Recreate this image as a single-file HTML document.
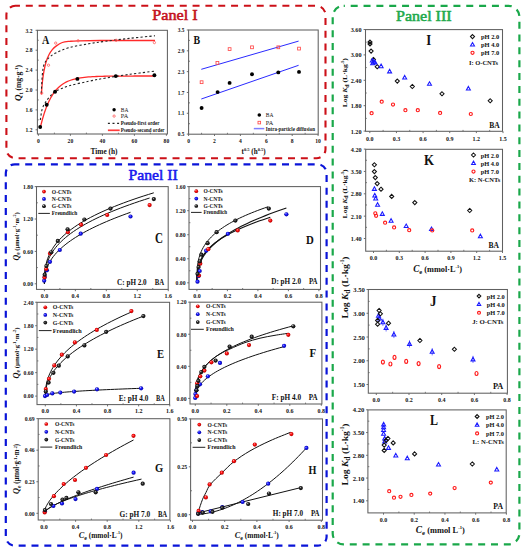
<!DOCTYPE html><html><head><meta charset="utf-8"><style>html,body{margin:0;padding:0;background:#fff;}svg{display:block;font-family:"Liberation Serif", serif;}</style></head><body>
<svg width="532" height="550" viewBox="0 0 532 550">
<defs><radialGradient id="gr" cx="0.5" cy="0.5" r="0.5" fx="0.35" fy="0.3"><stop offset="0" stop-color="#ffb0b0"/><stop offset="0.45" stop-color="#ff1010"/><stop offset="1" stop-color="#b00000"/></radialGradient><radialGradient id="gb" cx="0.5" cy="0.5" r="0.5" fx="0.35" fy="0.3"><stop offset="0" stop-color="#b0b0ff"/><stop offset="0.45" stop-color="#1a1aff"/><stop offset="1" stop-color="#0000a0"/></radialGradient><radialGradient id="gk" cx="0.5" cy="0.5" r="0.5" fx="0.35" fy="0.3"><stop offset="0" stop-color="#d0d0d0"/><stop offset="0.4" stop-color="#303030"/><stop offset="1" stop-color="#000"/></radialGradient></defs>
<rect width="532" height="550" fill="#fff"/>
<rect x="6.4" y="5.8" width="319.1" height="152.4" rx="9" ry="9" fill="none" stroke="#cc1018" stroke-width="2.1" stroke-dasharray="7 5.83" stroke-dashoffset="2.45"/>
<rect x="5.8" y="164.3" width="320.8" height="381.4" rx="9" ry="9" fill="none" stroke="#0a14d8" stroke-width="2.2" stroke-dasharray="7 5.84" stroke-dashoffset="2.44"/>
<rect x="332.7" y="5.8" width="186.7" height="538.6" rx="11" ry="11" fill="none" stroke="#1aa84a" stroke-width="2.2" stroke-dasharray="7 5.84" stroke-dashoffset="5.84"/>
<text x="175" y="19.7" font-size="15.2" fill="#c4101c" text-anchor="middle" textLength="45.4" lengthAdjust="spacingAndGlyphs" stroke="#c4101c" stroke-width="0.55">Panel I</text>
<text x="153.1" y="180" font-size="15.2" fill="#1818ee" text-anchor="middle" textLength="49.4" lengthAdjust="spacingAndGlyphs" stroke="#1818ee" stroke-width="0.55">Panel II</text>
<text x="423.8" y="21.4" font-size="15.2" fill="#1eaa4c" text-anchor="middle" textLength="55.6" lengthAdjust="spacingAndGlyphs" stroke="#1eaa4c" stroke-width="0.55">Panel III</text>
<rect x="37.4" y="30.3" width="130" height="103.7" fill="none" stroke="#606060" stroke-width="1.05"/>
<line x1="35.6" y1="129.8" x2="37.4" y2="129.8" stroke="#606060" stroke-width="0.9"/>
<text x="32.4" y="132" font-size="5.5" fill="#111" text-anchor="end" font-weight="bold">1.2</text>
<line x1="35.6" y1="109.9" x2="37.4" y2="109.9" stroke="#606060" stroke-width="0.9"/>
<text x="32.4" y="112.1" font-size="5.5" fill="#111" text-anchor="end" font-weight="bold">1.6</text>
<line x1="35.6" y1="90" x2="37.4" y2="90" stroke="#606060" stroke-width="0.9"/>
<text x="32.4" y="92.2" font-size="5.5" fill="#111" text-anchor="end" font-weight="bold">2.0</text>
<line x1="35.6" y1="70.1" x2="37.4" y2="70.1" stroke="#606060" stroke-width="0.9"/>
<text x="32.4" y="72.3" font-size="5.5" fill="#111" text-anchor="end" font-weight="bold">2.4</text>
<line x1="35.6" y1="50.2" x2="37.4" y2="50.2" stroke="#606060" stroke-width="0.9"/>
<text x="32.4" y="52.4" font-size="5.5" fill="#111" text-anchor="end" font-weight="bold">2.8</text>
<line x1="35.6" y1="30.3" x2="37.4" y2="30.3" stroke="#606060" stroke-width="0.9"/>
<text x="32.4" y="32.5" font-size="5.5" fill="#111" text-anchor="end" font-weight="bold">3.2</text>
<line x1="37.4" y1="119.85" x2="38.8" y2="119.85" stroke="#606060" stroke-width="0.8"/>
<line x1="37.4" y1="99.95" x2="38.8" y2="99.95" stroke="#606060" stroke-width="0.8"/>
<line x1="37.4" y1="80.05" x2="38.8" y2="80.05" stroke="#606060" stroke-width="0.8"/>
<line x1="37.4" y1="60.15" x2="38.8" y2="60.15" stroke="#606060" stroke-width="0.8"/>
<line x1="37.4" y1="40.25" x2="38.8" y2="40.25" stroke="#606060" stroke-width="0.8"/>
<line x1="38.4" y1="134" x2="38.4" y2="135.8" stroke="#606060" stroke-width="0.9"/>
<text x="38.4" y="143.2" font-size="5.6" fill="#111" text-anchor="middle" font-weight="bold">0</text>
<line x1="70.4" y1="134" x2="70.4" y2="135.8" stroke="#606060" stroke-width="0.9"/>
<text x="70.4" y="143.2" font-size="5.6" fill="#111" text-anchor="middle" font-weight="bold">20</text>
<line x1="102.4" y1="134" x2="102.4" y2="135.8" stroke="#606060" stroke-width="0.9"/>
<text x="102.4" y="143.2" font-size="5.6" fill="#111" text-anchor="middle" font-weight="bold">40</text>
<line x1="134.4" y1="134" x2="134.4" y2="135.8" stroke="#606060" stroke-width="0.9"/>
<text x="134.4" y="143.2" font-size="5.6" fill="#111" text-anchor="middle" font-weight="bold">60</text>
<line x1="166.4" y1="134" x2="166.4" y2="135.8" stroke="#606060" stroke-width="0.9"/>
<text x="166.4" y="143.2" font-size="5.6" fill="#111" text-anchor="middle" font-weight="bold">80</text>
<line x1="54.4" y1="134" x2="54.4" y2="132.6" stroke="#606060" stroke-width="0.8"/>
<line x1="86.4" y1="134" x2="86.4" y2="132.6" stroke="#606060" stroke-width="0.8"/>
<line x1="118.4" y1="134" x2="118.4" y2="132.6" stroke="#606060" stroke-width="0.8"/>
<line x1="150.4" y1="134" x2="150.4" y2="132.6" stroke="#606060" stroke-width="0.8"/>
<text x="42.1" y="43.9" font-size="12" fill="#111" font-weight="bold" textLength="7.3" lengthAdjust="spacingAndGlyphs">A</text>
<path d="M41.4 94.5C41.57 92.42 41.98 85.85 42.4 82C42.82 78.15 43.27 74.82 43.9 71.4C44.53 67.98 45.32 64.35 46.2 61.5C47.08 58.65 48.18 56.28 49.2 54.3C50.22 52.32 51.22 50.92 52.3 49.6C53.38 48.28 54.03 47.58 55.7 46.4C57.37 45.22 59.92 43.35 62.3 42.5C64.68 41.65 67.37 41.58 70 41.3C72.63 41.02 73.1 40.93 78.1 40.8C83.1 40.67 87.18 40.55 100 40.5C112.82 40.45 145.83 40.5 155 40.5" fill="none" stroke="#ff2a2a" stroke-width="1.3"/>
<path d="M40.5 126.7 L42.5 118.98 L44.5 112.43 L46.5 106.88 L48.5 102.17 L50.5 98.19 L52.5 94.81 L54.5 91.94 L56.5 89.51 L58.5 87.45 L60.5 85.71 L62.5 84.23 L64.5 82.98 L66.5 81.91 L68.5 81.01 L70.5 80.25 L72.5 79.6 L74.5 79.05 L76.5 78.59 L78.5 78.19 L80.5 77.86 L82.5 77.58 L84.5 77.34 L86.5 77.13 L88.5 76.96 L90.5 76.81 L92.5 76.69 L94.5 76.58 L96.5 76.5 L98.5 76.42 L100.5 76.36 L102.5 76.3 L104.5 76.26 L106.5 76.22 L108.5 76.18 L110.5 76.16 L112.5 76.13 L114.5 76.11 L116.5 76.09 L118.5 76.08 L120.5 76.07 L122.5 76.06 L124.5 76.05 L126.5 76.04 L128.5 76.04 L130.5 76.03 L132.5 76.03 L134.5 76.02 L136.5 76.02 L138.5 76.02 L140.5 76.01 L142.5 76.01 L144.5 76.01 L146.5 76.01 L148.5 76.01 L150.5 76.01 L152.5 76 L154.5 76" fill="none" stroke="#ff2a2a" stroke-width="1.3"/>
<path d="M41.3 93C41.47 90 41.87 79.67 42.3 75C42.73 70.33 42.98 67.68 43.9 65C44.82 62.32 45.83 60.9 47.8 58.9C49.77 56.9 52.18 54.87 55.7 53C59.22 51.13 63.42 49.23 68.9 47.7C74.38 46.17 82.42 44.88 88.6 43.8C94.78 42.72 99.1 42.12 106 41.2C112.9 40.28 121.83 39.2 130 38.3C138.17 37.4 150.83 36.22 155 35.8" fill="none" stroke="#222" stroke-width="1.1" stroke-dasharray="2.2 2.2"/>
<path d="M40.3 120C40.62 118.17 41.35 111.92 42.2 109C43.05 106.08 44.1 104.58 45.4 102.5C46.7 100.42 48.28 98.38 50 96.5C51.72 94.62 52.55 92.97 55.7 91.2C58.85 89.43 63.42 87.55 68.9 85.9C74.38 84.25 82.42 82.62 88.6 81.3C94.78 79.98 99.1 79.17 106 78C112.9 76.83 121.83 75.45 130 74.3C138.17 73.15 150.83 71.63 155 71.1" fill="none" stroke="#222" stroke-width="1.1" stroke-dasharray="2.2 2.2"/>
<circle cx="40.2" cy="127" r="1.95" fill="#000"/>
<circle cx="46.7" cy="104.8" r="1.95" fill="#000"/>
<circle cx="55.1" cy="91.8" r="1.95" fill="#000"/>
<circle cx="77.4" cy="78.9" r="1.95" fill="#000"/>
<circle cx="115.8" cy="76.1" r="1.95" fill="#000"/>
<circle cx="154.4" cy="75.3" r="1.95" fill="#000"/>
<circle cx="41.7" cy="93.1" r="1.15" fill="none" stroke="#ff5a5a" stroke-width="0.8"/>
<circle cx="48.5" cy="65.2" r="1.15" fill="none" stroke="#ff5a5a" stroke-width="0.8"/>
<circle cx="55.7" cy="43.1" r="1.15" fill="none" stroke="#ff5a5a" stroke-width="0.8"/>
<circle cx="78.1" cy="40.8" r="1.15" fill="none" stroke="#ff5a5a" stroke-width="0.8"/>
<circle cx="116.1" cy="40.3" r="1.15" fill="none" stroke="#ff5a5a" stroke-width="0.8"/>
<circle cx="154.4" cy="42.6" r="1.15" fill="none" stroke="#ff5a5a" stroke-width="0.8"/>
<circle cx="114.1" cy="109.7" r="1.7" fill="#000"/>
<text x="120.8" y="111.7" font-size="5.8" fill="#111" textLength="7.6" lengthAdjust="spacingAndGlyphs">BA</text>
<circle cx="114.1" cy="116.1" r="1.15" fill="none" stroke="#ff5a5a" stroke-width="0.8"/>
<text x="120.8" y="118.2" font-size="5.8" fill="#111" textLength="7.4" lengthAdjust="spacingAndGlyphs">PA</text>
<line x1="107.9" y1="123.3" x2="119.7" y2="123.3" stroke="#222" stroke-width="1.2" stroke-dasharray="2 2.6"/>
<text x="120.8" y="125.3" font-size="5.6" fill="#111" font-weight="bold" textLength="38.7" lengthAdjust="spacingAndGlyphs">Pseudo-first order</text>
<line x1="107.9" y1="130.3" x2="119.7" y2="130.3" stroke="#ff3a3a" stroke-width="1.7"/>
<text x="120.8" y="132.3" font-size="5.6" fill="#111" font-weight="bold" textLength="43.7" lengthAdjust="spacingAndGlyphs">Pseudo-second order</text>
<text x="104" y="154.2" font-size="7.3" fill="#111" text-anchor="middle" font-weight="bold" textLength="27.1" lengthAdjust="spacingAndGlyphs">Time (h)</text>
<text transform="translate(21.4 83.0) rotate(-90)" text-anchor="middle" font-size="7.4" font-weight="bold" fill="#111" textLength="36" lengthAdjust="spacingAndGlyphs"><tspan font-style="italic" font-size="8.8">Q</tspan><tspan font-size="5.8" dy="1.8">t</tspan><tspan dy="-1.8"> (mg·g</tspan><tspan font-size="4.8" dy="-3">-1</tspan><tspan dy="3">)</tspan></text>
<rect x="188.6" y="30" width="129.6" height="104.2" fill="none" stroke="#606060" stroke-width="1.05"/>
<line x1="186.8" y1="134.1" x2="188.6" y2="134.1" stroke="#606060" stroke-width="0.9"/>
<text x="184.4" y="136.22" font-size="5.3" fill="#111" text-anchor="end" font-weight="bold">0.5</text>
<line x1="186.8" y1="113.28" x2="188.6" y2="113.28" stroke="#606060" stroke-width="0.9"/>
<text x="184.4" y="115.4" font-size="5.3" fill="#111" text-anchor="end" font-weight="bold">1.1</text>
<line x1="186.8" y1="92.46" x2="188.6" y2="92.46" stroke="#606060" stroke-width="0.9"/>
<text x="184.4" y="94.58" font-size="5.3" fill="#111" text-anchor="end" font-weight="bold">1.7</text>
<line x1="186.8" y1="71.64" x2="188.6" y2="71.64" stroke="#606060" stroke-width="0.9"/>
<text x="184.4" y="73.76" font-size="5.3" fill="#111" text-anchor="end" font-weight="bold">2.3</text>
<line x1="186.8" y1="50.82" x2="188.6" y2="50.82" stroke="#606060" stroke-width="0.9"/>
<text x="184.4" y="52.94" font-size="5.3" fill="#111" text-anchor="end" font-weight="bold">2.9</text>
<line x1="186.8" y1="30" x2="188.6" y2="30" stroke="#606060" stroke-width="0.9"/>
<text x="184.4" y="32.12" font-size="5.3" fill="#111" text-anchor="end" font-weight="bold">3.5</text>
<line x1="188.6" y1="123.69" x2="190" y2="123.69" stroke="#606060" stroke-width="0.8"/>
<line x1="188.6" y1="102.87" x2="190" y2="102.87" stroke="#606060" stroke-width="0.8"/>
<line x1="188.6" y1="82.05" x2="190" y2="82.05" stroke="#606060" stroke-width="0.8"/>
<line x1="188.6" y1="61.23" x2="190" y2="61.23" stroke="#606060" stroke-width="0.8"/>
<line x1="188.6" y1="40.41" x2="190" y2="40.41" stroke="#606060" stroke-width="0.8"/>
<line x1="188.6" y1="134.2" x2="188.6" y2="136" stroke="#606060" stroke-width="0.9"/>
<text x="188.6" y="142.6" font-size="5.6" fill="#111" text-anchor="middle" font-weight="bold">0</text>
<line x1="214.5" y1="134.2" x2="214.5" y2="136" stroke="#606060" stroke-width="0.9"/>
<text x="214.5" y="142.6" font-size="5.6" fill="#111" text-anchor="middle" font-weight="bold">2</text>
<line x1="240.4" y1="134.2" x2="240.4" y2="136" stroke="#606060" stroke-width="0.9"/>
<text x="240.4" y="142.6" font-size="5.6" fill="#111" text-anchor="middle" font-weight="bold">4</text>
<line x1="266.3" y1="134.2" x2="266.3" y2="136" stroke="#606060" stroke-width="0.9"/>
<text x="266.3" y="142.6" font-size="5.6" fill="#111" text-anchor="middle" font-weight="bold">6</text>
<line x1="292.2" y1="134.2" x2="292.2" y2="136" stroke="#606060" stroke-width="0.9"/>
<text x="292.2" y="142.6" font-size="5.6" fill="#111" text-anchor="middle" font-weight="bold">8</text>
<line x1="318.1" y1="134.2" x2="318.1" y2="136" stroke="#606060" stroke-width="0.9"/>
<text x="318.1" y="142.6" font-size="5.6" fill="#111" text-anchor="middle" font-weight="bold">10</text>
<line x1="201.55" y1="134.2" x2="201.55" y2="132.8" stroke="#606060" stroke-width="0.8"/>
<line x1="227.45" y1="134.2" x2="227.45" y2="132.8" stroke="#606060" stroke-width="0.8"/>
<line x1="253.35" y1="134.2" x2="253.35" y2="132.8" stroke="#606060" stroke-width="0.8"/>
<line x1="279.25" y1="134.2" x2="279.25" y2="132.8" stroke="#606060" stroke-width="0.8"/>
<line x1="305.15" y1="134.2" x2="305.15" y2="132.8" stroke="#606060" stroke-width="0.8"/>
<text x="193.5" y="44" font-size="11.7" fill="#111" font-weight="bold" textLength="6.6" lengthAdjust="spacingAndGlyphs">B</text>
<line x1="201.3" y1="99" x2="298.6" y2="65.3" stroke="#2a2aff" stroke-width="1"/>
<line x1="201.3" y1="69.3" x2="298.6" y2="41.1" stroke="#2a2aff" stroke-width="1"/>
<circle cx="201.6" cy="108" r="1.95" fill="#000"/>
<circle cx="217.6" cy="92.1" r="1.95" fill="#000"/>
<circle cx="229.6" cy="82.9" r="1.95" fill="#000"/>
<circle cx="252" cy="74.2" r="1.95" fill="#000"/>
<circle cx="278.3" cy="72.4" r="1.95" fill="#000"/>
<circle cx="299" cy="71.9" r="1.95" fill="#000"/>
<rect x="200.2" y="80.8" width="2.8" height="2.8" fill="none" stroke="#ff4a4a" stroke-width="0.85"/>
<rect x="216" y="61.5" width="2.8" height="2.8" fill="none" stroke="#ff4a4a" stroke-width="0.85"/>
<rect x="228.2" y="47.7" width="2.8" height="2.8" fill="none" stroke="#ff4a4a" stroke-width="0.85"/>
<rect x="250.6" y="45.9" width="2.8" height="2.8" fill="none" stroke="#ff4a4a" stroke-width="0.85"/>
<rect x="276.9" y="45.9" width="2.8" height="2.8" fill="none" stroke="#ff4a4a" stroke-width="0.85"/>
<rect x="297.6" y="47.2" width="2.8" height="2.8" fill="none" stroke="#ff4a4a" stroke-width="0.85"/>
<circle cx="259.3" cy="115" r="1.8" fill="#000"/>
<text x="265.8" y="117.1" font-size="5.8" fill="#111" textLength="7.6" lengthAdjust="spacingAndGlyphs">BA</text>
<rect x="258" y="121.3" width="2.6" height="2.6" fill="none" stroke="#ff4a4a" stroke-width="0.85"/>
<text x="265.8" y="124.6" font-size="5.8" fill="#111" textLength="7.4" lengthAdjust="spacingAndGlyphs">PA</text>
<line x1="253.8" y1="128.6" x2="264.3" y2="128.6" stroke="#7f7fff" stroke-width="1.5"/>
<text x="265.8" y="130.6" font-size="5.6" fill="#111" font-weight="bold" textLength="49.2" lengthAdjust="spacingAndGlyphs">Intra-particle diffusion</text>
<text x="241.6" y="154.3" font-size="7.6" font-weight="bold" fill="#111" textLength="24" lengthAdjust="spacingAndGlyphs">t<tspan font-size="4.8" dy="-3.8">0.5</tspan><tspan dy="3.8"> (h</tspan><tspan font-size="4.8" dy="-3.8">0.5</tspan><tspan dy="3.6">)</tspan></text>
<rect x="36.5" y="186.6" width="131.7" height="102.8" fill="none" stroke="#606060" stroke-width="1.05"/>
<line x1="34.7" y1="283.8" x2="36.5" y2="283.8" stroke="#606060" stroke-width="0.9"/>
<text x="33" y="286.08" font-size="5.7" fill="#111" text-anchor="end" font-weight="bold">0.00</text>
<line x1="34.7" y1="251.4" x2="36.5" y2="251.4" stroke="#606060" stroke-width="0.9"/>
<text x="33" y="253.68" font-size="5.7" fill="#111" text-anchor="end" font-weight="bold">0.60</text>
<line x1="34.7" y1="219" x2="36.5" y2="219" stroke="#606060" stroke-width="0.9"/>
<text x="33" y="221.28" font-size="5.7" fill="#111" text-anchor="end" font-weight="bold">1.20</text>
<line x1="34.7" y1="186.6" x2="36.5" y2="186.6" stroke="#606060" stroke-width="0.9"/>
<text x="33" y="188.88" font-size="5.7" fill="#111" text-anchor="end" font-weight="bold">1.80</text>
<line x1="36.5" y1="267.6" x2="37.9" y2="267.6" stroke="#606060" stroke-width="0.8"/>
<line x1="36.5" y1="235.2" x2="37.9" y2="235.2" stroke="#606060" stroke-width="0.8"/>
<line x1="36.5" y1="202.8" x2="37.9" y2="202.8" stroke="#606060" stroke-width="0.8"/>
<line x1="44.4" y1="289.4" x2="44.4" y2="291.2" stroke="#606060" stroke-width="0.9"/>
<text x="44.4" y="297.6" font-size="6" fill="#111" text-anchor="middle" font-weight="bold">0.0</text>
<line x1="75.36" y1="289.4" x2="75.36" y2="291.2" stroke="#606060" stroke-width="0.9"/>
<text x="75.36" y="297.6" font-size="6" fill="#111" text-anchor="middle" font-weight="bold">0.4</text>
<line x1="106.32" y1="289.4" x2="106.32" y2="291.2" stroke="#606060" stroke-width="0.9"/>
<text x="106.32" y="297.6" font-size="6" fill="#111" text-anchor="middle" font-weight="bold">0.8</text>
<line x1="137.28" y1="289.4" x2="137.28" y2="291.2" stroke="#606060" stroke-width="0.9"/>
<text x="137.28" y="297.6" font-size="6" fill="#111" text-anchor="middle" font-weight="bold">1.2</text>
<line x1="168.24" y1="289.4" x2="168.24" y2="291.2" stroke="#606060" stroke-width="0.9"/>
<text x="168.24" y="297.6" font-size="6" fill="#111" text-anchor="middle" font-weight="bold">1.6</text>
<line x1="59.88" y1="289.4" x2="59.88" y2="288" stroke="#606060" stroke-width="0.8"/>
<line x1="90.84" y1="289.4" x2="90.84" y2="288" stroke="#606060" stroke-width="0.8"/>
<line x1="121.8" y1="289.4" x2="121.8" y2="288" stroke="#606060" stroke-width="0.8"/>
<line x1="152.76" y1="289.4" x2="152.76" y2="288" stroke="#606060" stroke-width="0.8"/>
<path d="M44.4 283.8 L44.47 277.66 L44.67 273.61 L45.02 270.09 L45.49 266.88 L46.11 263.89 L46.86 261.05 L47.75 258.34 L48.78 255.73 L49.94 253.21 L51.24 250.76 L52.67 248.37 L54.25 246.05 L55.96 243.77 L57.8 241.55 L59.78 239.36 L61.9 237.22 L64.16 235.11 L66.55 233.03 L69.08 230.98 L71.75 228.96 L74.55 226.97 L77.49 225.01 L80.57 223.07 L83.78 221.15 L87.13 219.25 L90.62 217.38 L94.25 215.52 L98.01 213.68 L101.9 211.86 L105.94 210.05 L110.11 208.27 L114.42 206.49 L118.86 204.73 L123.44 202.99 L128.16 201.26 L133.01 199.54 L138.01 197.84 L143.13 196.15 L148.4 194.47 L153.8 192.8" fill="none" stroke="#111" stroke-width="1"/>
<path d="M44.4 283.8 L44.47 278.79 L44.66 275.26 L44.99 272.13 L45.45 269.23 L46.04 266.5 L46.77 263.89 L47.62 261.38 L48.61 258.96 L49.73 256.6 L50.97 254.3 L52.36 252.05 L53.87 249.85 L55.51 247.69 L57.29 245.57 L59.19 243.49 L61.23 241.43 L63.4 239.41 L65.7 237.41 L68.14 235.44 L70.7 233.49 L73.4 231.56 L76.22 229.66 L79.18 227.77 L82.27 225.9 L85.49 224.06 L88.85 222.22 L92.33 220.41 L95.95 218.61 L99.7 216.82 L103.57 215.05 L107.59 213.29 L111.73 211.55 L116 209.81 L120.41 208.09 L124.94 206.38 L129.61 204.69 L134.41 203 L139.34 201.32 L144.41 199.66 L149.6 198" fill="none" stroke="#111" stroke-width="1"/>
<path d="M44.4 283.8 L44.45 280.71 L44.62 278.22 L44.88 275.92 L45.26 273.74 L45.75 271.63 L46.34 269.59 L47.04 267.59 L47.84 265.64 L48.76 263.72 L49.78 261.84 L50.91 259.98 L52.15 258.15 L53.49 256.34 L54.95 254.55 L56.51 252.78 L58.18 251.03 L59.95 249.3 L61.84 247.57 L63.83 245.87 L65.92 244.17 L68.13 242.49 L70.45 240.82 L72.87 239.17 L75.4 237.52 L78.03 235.88 L80.78 234.26 L83.63 232.64 L86.59 231.03 L89.66 229.43 L92.83 227.83 L96.11 226.25 L99.5 224.67 L103 223.1 L106.61 221.54 L110.32 219.98 L114.14 218.44 L118.07 216.89 L122.11 215.36 L126.25 213.82 L130.5 212.3" fill="none" stroke="#111" stroke-width="1"/>
<circle cx="44.2" cy="280.7" r="2.1" fill="url(#gb)"/>
<circle cx="44.7" cy="276.9" r="2.1" fill="url(#gb)"/>
<circle cx="46.9" cy="270.3" r="2.1" fill="url(#gb)"/>
<circle cx="50" cy="261.8" r="2.1" fill="url(#gb)"/>
<circle cx="59.8" cy="250" r="2.1" fill="url(#gb)"/>
<circle cx="80.7" cy="233.7" r="2.1" fill="url(#gb)"/>
<circle cx="130.5" cy="216.5" r="2.1" fill="url(#gb)"/>
<circle cx="44.5" cy="277.5" r="2.1" fill="url(#gr)"/>
<circle cx="46.2" cy="269" r="2.1" fill="url(#gr)"/>
<circle cx="50" cy="253.4" r="2.1" fill="url(#gr)"/>
<circle cx="67.9" cy="232.2" r="2.1" fill="url(#gr)"/>
<circle cx="81.1" cy="224.7" r="2.1" fill="url(#gr)"/>
<circle cx="107.2" cy="215" r="2.1" fill="url(#gr)"/>
<circle cx="149.6" cy="205.1" r="2.1" fill="url(#gr)"/>
<circle cx="44.7" cy="274.7" r="2.1" fill="url(#gk)"/>
<circle cx="46.4" cy="266" r="2.1" fill="url(#gk)"/>
<circle cx="51.3" cy="252.3" r="2.1" fill="url(#gk)"/>
<circle cx="57.8" cy="240.9" r="2.1" fill="url(#gk)"/>
<circle cx="67.6" cy="229.3" r="2.1" fill="url(#gk)"/>
<circle cx="84.4" cy="219.5" r="2.1" fill="url(#gk)"/>
<circle cx="110.5" cy="208.6" r="2.1" fill="url(#gk)"/>
<circle cx="153.8" cy="199.1" r="2.1" fill="url(#gk)"/>
<circle cx="44" cy="191.6" r="1.85" fill="url(#gr)"/>
<circle cx="44" cy="198.9" r="1.85" fill="url(#gb)"/>
<circle cx="44" cy="206.2" r="1.85" fill="url(#gk)"/>
<text x="51.8" y="193.6" font-size="5.6" fill="#111" font-weight="bold" textLength="19.6" lengthAdjust="spacingAndGlyphs">O-CNTs</text>
<text x="51.8" y="200.9" font-size="5.6" fill="#111" font-weight="bold" textLength="19.6" lengthAdjust="spacingAndGlyphs">N-CNTs</text>
<text x="51.8" y="208.2" font-size="5.6" fill="#111" font-weight="bold" textLength="19.6" lengthAdjust="spacingAndGlyphs">G-CNTs</text>
<line x1="38.3" y1="213.4" x2="49.9" y2="213.4" stroke="#222" stroke-width="1"/>
<text x="51.8" y="215.4" font-size="5.9" fill="#111" font-weight="bold" textLength="25.4" lengthAdjust="spacingAndGlyphs">Freundlich</text>
<text x="154.9" y="242.6" font-size="13.9" fill="#111" font-weight="bold" textLength="8" lengthAdjust="spacingAndGlyphs">C</text>
<text x="117.1" y="284.8" font-size="7.4" fill="#111" font-weight="bold" textLength="29.6" lengthAdjust="spacingAndGlyphs">C: pH 2.0</text>
<text x="154.7" y="284.8" font-size="7.4" fill="#111" font-weight="bold" textLength="9.4" lengthAdjust="spacingAndGlyphs">BA</text>
<text transform="translate(18.6 236.4) rotate(-90)" text-anchor="middle" font-size="7" font-weight="bold" fill="#111" textLength="48" lengthAdjust="spacingAndGlyphs"><tspan font-style="italic" font-size="8.4">Q</tspan><tspan font-size="5.6" dy="1.8">e</tspan><tspan dy="-1.8"> (μmol·g</tspan><tspan font-size="4.34" dy="-2.8">-1</tspan><tspan dy="2.8">·m</tspan><tspan font-size="4.34" dy="-2.8">-2</tspan><tspan dy="2.8">)</tspan></text>
<rect x="189" y="186.6" width="131.5" height="102.8" fill="none" stroke="#606060" stroke-width="1.05"/>
<line x1="187.2" y1="282.8" x2="189" y2="282.8" stroke="#606060" stroke-width="0.9"/>
<text x="185.5" y="285.08" font-size="5.7" fill="#111" text-anchor="end" font-weight="bold">0.00</text>
<line x1="187.2" y1="258.76" x2="189" y2="258.76" stroke="#606060" stroke-width="0.9"/>
<text x="185.5" y="261.04" font-size="5.7" fill="#111" text-anchor="end" font-weight="bold">0.40</text>
<line x1="187.2" y1="234.72" x2="189" y2="234.72" stroke="#606060" stroke-width="0.9"/>
<text x="185.5" y="237" font-size="5.7" fill="#111" text-anchor="end" font-weight="bold">0.80</text>
<line x1="187.2" y1="210.68" x2="189" y2="210.68" stroke="#606060" stroke-width="0.9"/>
<text x="185.5" y="212.96" font-size="5.7" fill="#111" text-anchor="end" font-weight="bold">1.20</text>
<line x1="187.2" y1="186.64" x2="189" y2="186.64" stroke="#606060" stroke-width="0.9"/>
<text x="185.5" y="188.92" font-size="5.7" fill="#111" text-anchor="end" font-weight="bold">1.60</text>
<line x1="189" y1="270.78" x2="190.4" y2="270.78" stroke="#606060" stroke-width="0.8"/>
<line x1="189" y1="246.74" x2="190.4" y2="246.74" stroke="#606060" stroke-width="0.8"/>
<line x1="189" y1="222.7" x2="190.4" y2="222.7" stroke="#606060" stroke-width="0.8"/>
<line x1="189" y1="198.66" x2="190.4" y2="198.66" stroke="#606060" stroke-width="0.8"/>
<line x1="196.9" y1="289.4" x2="196.9" y2="291.2" stroke="#606060" stroke-width="0.9"/>
<text x="196.9" y="297.6" font-size="6" fill="#111" text-anchor="middle" font-weight="bold">0.0</text>
<line x1="227.4" y1="289.4" x2="227.4" y2="291.2" stroke="#606060" stroke-width="0.9"/>
<text x="227.4" y="297.6" font-size="6" fill="#111" text-anchor="middle" font-weight="bold">0.2</text>
<line x1="257.9" y1="289.4" x2="257.9" y2="291.2" stroke="#606060" stroke-width="0.9"/>
<text x="257.9" y="297.6" font-size="6" fill="#111" text-anchor="middle" font-weight="bold">0.4</text>
<line x1="288.4" y1="289.4" x2="288.4" y2="291.2" stroke="#606060" stroke-width="0.9"/>
<text x="288.4" y="297.6" font-size="6" fill="#111" text-anchor="middle" font-weight="bold">0.6</text>
<line x1="318.9" y1="289.4" x2="318.9" y2="291.2" stroke="#606060" stroke-width="0.9"/>
<text x="318.9" y="297.6" font-size="6" fill="#111" text-anchor="middle" font-weight="bold">0.8</text>
<line x1="212.15" y1="289.4" x2="212.15" y2="288" stroke="#606060" stroke-width="0.8"/>
<line x1="242.65" y1="289.4" x2="242.65" y2="288" stroke="#606060" stroke-width="0.8"/>
<line x1="273.15" y1="289.4" x2="273.15" y2="288" stroke="#606060" stroke-width="0.8"/>
<line x1="303.65" y1="289.4" x2="303.65" y2="288" stroke="#606060" stroke-width="0.8"/>
<path d="M196.9 282.8 L196.94 275.47 L197.08 271.42 L197.3 268.09 L197.61 265.14 L198.01 262.46 L198.5 259.97 L199.08 257.62 L199.74 255.4 L200.5 253.28 L201.34 251.24 L202.28 249.27 L203.3 247.37 L204.41 245.53 L205.61 243.73 L206.9 241.99 L208.28 240.28 L209.74 238.62 L211.3 236.99 L212.94 235.39 L214.68 233.82 L216.5 232.28 L218.41 230.77 L220.41 229.29 L222.5 227.82 L224.67 226.38 L226.94 224.96 L229.29 223.56 L231.74 222.18 L234.27 220.82 L236.89 219.47 L239.6 218.14 L242.4 216.82 L245.29 215.52 L248.27 214.24 L251.34 212.97 L254.49 211.71 L257.73 210.46 L261.07 209.23 L264.49 208.01 L268 206.8" fill="none" stroke="#111" stroke-width="1"/>
<path d="M196.9 282.8 L196.95 278.06 L197.08 275.03 L197.31 272.43 L197.63 270.08 L198.05 267.89 L198.55 265.82 L199.15 263.85 L199.84 261.96 L200.62 260.14 L201.49 258.38 L202.45 256.66 L203.51 254.99 L204.65 253.36 L205.89 251.77 L207.22 250.21 L208.64 248.68 L210.16 247.17 L211.76 245.69 L213.46 244.24 L215.25 242.8 L217.13 241.39 L219.1 240 L221.17 238.62 L223.32 237.26 L225.57 235.92 L227.91 234.59 L230.34 233.28 L232.87 231.98 L235.48 230.7 L238.19 229.43 L240.99 228.17 L243.88 226.92 L246.86 225.68 L249.93 224.45 L253.1 223.24 L256.35 222.03 L259.7 220.83 L263.14 219.65 L266.68 218.47 L270.3 217.3" fill="none" stroke="#111" stroke-width="1.1"/>
<path d="M196.9 282.8 L196.96 278.83 L197.12 275.91 L197.4 273.28 L197.8 270.83 L198.3 268.51 L198.91 266.28 L199.64 264.13 L200.48 262.03 L201.43 259.99 L202.49 258 L203.67 256.05 L204.96 254.13 L206.35 252.25 L207.86 250.39 L209.49 248.56 L211.22 246.76 L213.07 244.98 L215.02 243.22 L217.09 241.48 L219.28 239.76 L221.57 238.06 L223.97 236.37 L226.49 234.7 L229.12 233.04 L231.86 231.4 L234.71 229.77 L237.68 228.16 L240.75 226.55 L243.94 224.96 L247.24 223.38 L250.66 221.81 L254.18 220.25 L257.82 218.7 L261.56 217.16 L265.42 215.63 L269.39 214.1 L273.48 212.59 L277.67 211.09 L281.98 209.59 L286.4 208.1" fill="none" stroke="#111" stroke-width="1.1"/>
<circle cx="197.5" cy="281.7" r="2.1" fill="url(#gb)"/>
<circle cx="198.6" cy="276.1" r="2.1" fill="url(#gb)"/>
<circle cx="199.7" cy="271" r="2.1" fill="url(#gb)"/>
<circle cx="206.2" cy="250.7" r="2.1" fill="url(#gb)"/>
<circle cx="227.9" cy="233.8" r="2.1" fill="url(#gb)"/>
<circle cx="286.4" cy="214.3" r="2.1" fill="url(#gb)"/>
<circle cx="199" cy="275.5" r="2.1" fill="url(#gr)"/>
<circle cx="200.3" cy="263.7" r="2.1" fill="url(#gr)"/>
<circle cx="208.3" cy="249.2" r="2.1" fill="url(#gr)"/>
<circle cx="237.7" cy="230.4" r="2.1" fill="url(#gr)"/>
<circle cx="270.3" cy="220.6" r="2.1" fill="url(#gr)"/>
<circle cx="197.5" cy="273.8" r="2.1" fill="url(#gk)"/>
<circle cx="198.6" cy="267.1" r="2.1" fill="url(#gk)"/>
<circle cx="199.7" cy="261.4" r="2.1" fill="url(#gk)"/>
<circle cx="201.4" cy="254.7" r="2.1" fill="url(#gk)"/>
<circle cx="207.6" cy="243.2" r="2.1" fill="url(#gk)"/>
<circle cx="216.6" cy="232.2" r="2.1" fill="url(#gk)"/>
<circle cx="235.4" cy="220.6" r="2.1" fill="url(#gk)"/>
<circle cx="268.8" cy="208.6" r="2.1" fill="url(#gk)"/>
<circle cx="196.3" cy="191.2" r="1.85" fill="url(#gr)"/>
<circle cx="196.3" cy="198.6" r="1.85" fill="url(#gb)"/>
<circle cx="196.3" cy="206" r="1.85" fill="url(#gk)"/>
<text x="203.4" y="193.2" font-size="5.4" fill="#111" font-weight="bold" textLength="19.3" lengthAdjust="spacingAndGlyphs">O-CNTs</text>
<text x="203.4" y="200.6" font-size="5.4" fill="#111" font-weight="bold" textLength="19.3" lengthAdjust="spacingAndGlyphs">N-CNTs</text>
<text x="203.4" y="208" font-size="5.4" fill="#111" font-weight="bold" textLength="19.3" lengthAdjust="spacingAndGlyphs">G-CNTs</text>
<line x1="191" y1="212.4" x2="201.6" y2="212.4" stroke="#222" stroke-width="1"/>
<text x="203.4" y="214.4" font-size="5.7" fill="#111" font-weight="bold" textLength="23.7" lengthAdjust="spacingAndGlyphs">Freundlich</text>
<text x="306" y="243.6" font-size="13.5" fill="#111" font-weight="bold" textLength="7.8" lengthAdjust="spacingAndGlyphs">D</text>
<text x="271.2" y="284.2" font-size="7.4" fill="#111" font-weight="bold" textLength="29.8" lengthAdjust="spacingAndGlyphs">D: pH 2.0</text>
<text x="308.9" y="284.2" font-size="7.4" fill="#111" font-weight="bold" textLength="8.6" lengthAdjust="spacingAndGlyphs">PA</text>
<rect x="37" y="302.3" width="132.6" height="102.3" fill="none" stroke="#606060" stroke-width="1.05"/>
<line x1="35.2" y1="396.1" x2="37" y2="396.1" stroke="#606060" stroke-width="0.9"/>
<text x="33.5" y="398.38" font-size="5.7" fill="#111" text-anchor="end" font-weight="bold">0.00</text>
<line x1="35.2" y1="372.64" x2="37" y2="372.64" stroke="#606060" stroke-width="0.9"/>
<text x="33.5" y="374.92" font-size="5.7" fill="#111" text-anchor="end" font-weight="bold">0.60</text>
<line x1="35.2" y1="349.18" x2="37" y2="349.18" stroke="#606060" stroke-width="0.9"/>
<text x="33.5" y="351.46" font-size="5.7" fill="#111" text-anchor="end" font-weight="bold">1.20</text>
<line x1="35.2" y1="325.72" x2="37" y2="325.72" stroke="#606060" stroke-width="0.9"/>
<text x="33.5" y="328" font-size="5.7" fill="#111" text-anchor="end" font-weight="bold">1.80</text>
<line x1="35.2" y1="302.26" x2="37" y2="302.26" stroke="#606060" stroke-width="0.9"/>
<text x="33.5" y="304.54" font-size="5.7" fill="#111" text-anchor="end" font-weight="bold">2.40</text>
<line x1="37" y1="384.37" x2="38.4" y2="384.37" stroke="#606060" stroke-width="0.8"/>
<line x1="37" y1="360.91" x2="38.4" y2="360.91" stroke="#606060" stroke-width="0.8"/>
<line x1="37" y1="337.45" x2="38.4" y2="337.45" stroke="#606060" stroke-width="0.8"/>
<line x1="37" y1="313.99" x2="38.4" y2="313.99" stroke="#606060" stroke-width="0.8"/>
<line x1="45.3" y1="404.6" x2="45.3" y2="406.4" stroke="#606060" stroke-width="0.9"/>
<text x="45.3" y="412.9" font-size="6" fill="#111" text-anchor="middle" font-weight="bold">0.0</text>
<line x1="76.42" y1="404.6" x2="76.42" y2="406.4" stroke="#606060" stroke-width="0.9"/>
<text x="76.42" y="412.9" font-size="6" fill="#111" text-anchor="middle" font-weight="bold">0.4</text>
<line x1="107.54" y1="404.6" x2="107.54" y2="406.4" stroke="#606060" stroke-width="0.9"/>
<text x="107.54" y="412.9" font-size="6" fill="#111" text-anchor="middle" font-weight="bold">0.8</text>
<line x1="138.66" y1="404.6" x2="138.66" y2="406.4" stroke="#606060" stroke-width="0.9"/>
<text x="138.66" y="412.9" font-size="6" fill="#111" text-anchor="middle" font-weight="bold">1.2</text>
<line x1="169.78" y1="404.6" x2="169.78" y2="406.4" stroke="#606060" stroke-width="0.9"/>
<text x="169.78" y="412.9" font-size="6" fill="#111" text-anchor="middle" font-weight="bold">1.6</text>
<line x1="60.86" y1="404.6" x2="60.86" y2="403.2" stroke="#606060" stroke-width="0.8"/>
<line x1="91.98" y1="404.6" x2="91.98" y2="403.2" stroke="#606060" stroke-width="0.8"/>
<line x1="123.1" y1="404.6" x2="123.1" y2="403.2" stroke="#606060" stroke-width="0.8"/>
<line x1="154.22" y1="404.6" x2="154.22" y2="403.2" stroke="#606060" stroke-width="0.8"/>
<path d="M45.3 396.1 L45.35 392.97 L45.52 390.3 L45.78 387.77 L46.16 385.33 L46.65 382.95 L47.24 380.63 L47.94 378.35 L48.74 376.1 L49.66 373.89 L50.68 371.7 L51.81 369.53 L53.05 367.38 L54.39 365.26 L55.85 363.15 L57.41 361.06 L59.08 358.98 L60.85 356.91 L62.74 354.86 L64.73 352.82 L66.83 350.8 L69.03 348.78 L71.35 346.77 L73.77 344.78 L76.3 342.79 L78.93 340.81 L81.68 338.84 L84.53 336.88 L87.49 334.93 L90.56 332.98 L93.73 331.04 L97.01 329.11 L100.4 327.19 L103.9 325.27 L107.51 323.35 L111.22 321.45 L115.04 319.55 L118.97 317.65 L123.01 315.76 L127.15 313.88 L131.4 312" fill="none" stroke="#111" stroke-width="1"/>
<path d="M45.3 396.1 L45.36 393.68 L45.55 391.44 L45.85 389.25 L46.28 387.1 L46.83 384.98 L47.51 382.88 L48.3 380.79 L49.22 378.73 L50.27 376.67 L51.43 374.63 L52.72 372.6 L54.13 370.57 L55.66 368.56 L57.32 366.55 L59.1 364.56 L61 362.56 L63.02 360.58 L65.17 358.6 L67.43 356.62 L69.83 354.66 L72.34 352.69 L74.98 350.73 L77.73 348.78 L80.62 346.83 L83.62 344.88 L86.75 342.94 L90 341 L93.37 339.07 L96.86 337.14 L100.48 335.21 L104.22 333.29 L108.08 331.37 L112.07 329.45 L116.18 327.53 L120.41 325.62 L124.76 323.71 L129.24 321.8 L133.84 319.9 L138.56 318 L143.4 316.1" fill="none" stroke="#111" stroke-width="1"/>
<path d="M45.3 396.1 L45.36 395.78 L45.54 395.51 L45.84 395.27 L46.26 395.03 L46.8 394.81 L47.46 394.59 L48.23 394.37 L49.13 394.16 L50.15 393.95 L51.29 393.75 L52.54 393.54 L53.92 393.34 L55.42 393.15 L57.04 392.95 L58.77 392.76 L60.63 392.57 L62.6 392.38 L64.7 392.19 L66.91 392 L69.25 391.82 L71.7 391.63 L74.28 391.45 L76.97 391.27 L79.79 391.08 L82.72 390.9 L85.78 390.72 L88.95 390.55 L92.24 390.37 L95.65 390.19 L99.19 390.02 L102.84 389.84 L106.61 389.67 L110.5 389.49 L114.52 389.32 L118.65 389.15 L122.9 388.98 L127.27 388.81 L131.76 388.64 L136.37 388.47 L141.1 388.3" fill="none" stroke="#111" stroke-width="1"/>
<circle cx="45" cy="396.1" r="2.1" fill="url(#gb)"/>
<circle cx="47.1" cy="395" r="2.1" fill="url(#gb)"/>
<circle cx="52.3" cy="393.4" r="2.1" fill="url(#gb)"/>
<circle cx="60.3" cy="392.6" r="2.1" fill="url(#gb)"/>
<circle cx="74.1" cy="391.6" r="2.1" fill="url(#gb)"/>
<circle cx="97" cy="389.3" r="2.1" fill="url(#gb)"/>
<circle cx="141.1" cy="388.3" r="2.1" fill="url(#gb)"/>
<circle cx="45.8" cy="389" r="2.1" fill="url(#gr)"/>
<circle cx="49" cy="378.8" r="2.1" fill="url(#gr)"/>
<circle cx="54.3" cy="365.4" r="2.1" fill="url(#gr)"/>
<circle cx="61.8" cy="354.7" r="2.1" fill="url(#gr)"/>
<circle cx="74.9" cy="342.4" r="2.1" fill="url(#gr)"/>
<circle cx="96.8" cy="329.9" r="2.1" fill="url(#gr)"/>
<circle cx="131.4" cy="311.1" r="2.1" fill="url(#gr)"/>
<circle cx="45.8" cy="391.5" r="2.1" fill="url(#gk)"/>
<circle cx="48.6" cy="382.6" r="2.1" fill="url(#gk)"/>
<circle cx="53.4" cy="372.8" r="2.1" fill="url(#gk)"/>
<circle cx="58.8" cy="365.7" r="2.1" fill="url(#gk)"/>
<circle cx="67.7" cy="356.4" r="2.1" fill="url(#gk)"/>
<circle cx="84.4" cy="345.4" r="2.1" fill="url(#gk)"/>
<circle cx="106.2" cy="331.8" r="2.1" fill="url(#gk)"/>
<circle cx="143.4" cy="316.1" r="2.1" fill="url(#gk)"/>
<circle cx="45.3" cy="307.3" r="1.85" fill="url(#gr)"/>
<circle cx="45.3" cy="314.9" r="1.85" fill="url(#gb)"/>
<circle cx="45.3" cy="322.6" r="1.85" fill="url(#gk)"/>
<text x="52.8" y="309.3" font-size="5.6" fill="#111" font-weight="bold" textLength="20.6" lengthAdjust="spacingAndGlyphs">O-CNTs</text>
<text x="52.8" y="316.9" font-size="5.6" fill="#111" font-weight="bold" textLength="20.6" lengthAdjust="spacingAndGlyphs">N-CNTs</text>
<text x="52.8" y="324.6" font-size="5.6" fill="#111" font-weight="bold" textLength="20.6" lengthAdjust="spacingAndGlyphs">G-CNTs</text>
<line x1="38.8" y1="330.6" x2="51.6" y2="330.6" stroke="#222" stroke-width="1"/>
<text x="52.8" y="332.6" font-size="5.9" fill="#111" font-weight="bold" textLength="28.9" lengthAdjust="spacingAndGlyphs">Freundlich</text>
<text x="157.1" y="357.7" font-size="13.5" fill="#111" font-weight="bold" textLength="7.1" lengthAdjust="spacingAndGlyphs">E</text>
<text x="118.8" y="400.8" font-size="7.4" fill="#111" font-weight="bold" textLength="29.5" lengthAdjust="spacingAndGlyphs">E: pH 4.0</text>
<text x="156.1" y="400.8" font-size="7.4" fill="#111" font-weight="bold" textLength="8.8" lengthAdjust="spacingAndGlyphs">BA</text>
<text transform="translate(18.6 353) rotate(-90)" text-anchor="middle" font-size="7" font-weight="bold" fill="#111" textLength="51" lengthAdjust="spacingAndGlyphs"><tspan font-style="italic" font-size="8.4">Q</tspan><tspan font-size="5.6" dy="1.8">e</tspan><tspan dy="-1.8"> (μmol·g</tspan><tspan font-size="4.34" dy="-2.8">-1</tspan><tspan dy="2.8">·m</tspan><tspan font-size="4.34" dy="-2.8">-2</tspan><tspan dy="2.8">)</tspan></text>
<rect x="190" y="302.2" width="131.9" height="101.8" fill="none" stroke="#606060" stroke-width="1.05"/>
<line x1="188.2" y1="398.4" x2="190" y2="398.4" stroke="#606060" stroke-width="0.9"/>
<text x="186.5" y="400.68" font-size="5.7" fill="#111" text-anchor="end" font-weight="bold">0.00</text>
<line x1="188.2" y1="366.32" x2="190" y2="366.32" stroke="#606060" stroke-width="0.9"/>
<text x="186.5" y="368.6" font-size="5.7" fill="#111" text-anchor="end" font-weight="bold">0.40</text>
<line x1="188.2" y1="334.24" x2="190" y2="334.24" stroke="#606060" stroke-width="0.9"/>
<text x="186.5" y="336.52" font-size="5.7" fill="#111" text-anchor="end" font-weight="bold">0.80</text>
<line x1="188.2" y1="302.16" x2="190" y2="302.16" stroke="#606060" stroke-width="0.9"/>
<text x="186.5" y="304.44" font-size="5.7" fill="#111" text-anchor="end" font-weight="bold">1.20</text>
<line x1="190" y1="382.36" x2="191.4" y2="382.36" stroke="#606060" stroke-width="0.8"/>
<line x1="190" y1="350.28" x2="191.4" y2="350.28" stroke="#606060" stroke-width="0.8"/>
<line x1="190" y1="318.2" x2="191.4" y2="318.2" stroke="#606060" stroke-width="0.8"/>
<line x1="195.3" y1="404" x2="195.3" y2="405.8" stroke="#606060" stroke-width="0.9"/>
<text x="195.3" y="412.6" font-size="6" fill="#111" text-anchor="middle" font-weight="bold">0.0</text>
<line x1="226.8" y1="404" x2="226.8" y2="405.8" stroke="#606060" stroke-width="0.9"/>
<text x="226.8" y="412.6" font-size="6" fill="#111" text-anchor="middle" font-weight="bold">0.2</text>
<line x1="258.3" y1="404" x2="258.3" y2="405.8" stroke="#606060" stroke-width="0.9"/>
<text x="258.3" y="412.6" font-size="6" fill="#111" text-anchor="middle" font-weight="bold">0.4</text>
<line x1="289.8" y1="404" x2="289.8" y2="405.8" stroke="#606060" stroke-width="0.9"/>
<text x="289.8" y="412.6" font-size="6" fill="#111" text-anchor="middle" font-weight="bold">0.6</text>
<line x1="321.3" y1="404" x2="321.3" y2="405.8" stroke="#606060" stroke-width="0.9"/>
<text x="321.3" y="412.6" font-size="6" fill="#111" text-anchor="middle" font-weight="bold">0.8</text>
<line x1="211.05" y1="404" x2="211.05" y2="402.6" stroke="#606060" stroke-width="0.8"/>
<line x1="242.55" y1="404" x2="242.55" y2="402.6" stroke="#606060" stroke-width="0.8"/>
<line x1="274.05" y1="404" x2="274.05" y2="402.6" stroke="#606060" stroke-width="0.8"/>
<line x1="305.55" y1="404" x2="305.55" y2="402.6" stroke="#606060" stroke-width="0.8"/>
<path d="M195.3 398.3 L195.36 392.96 L195.55 389.58 L195.85 386.69 L196.28 384.07 L196.83 381.64 L197.51 379.34 L198.31 377.16 L199.23 375.07 L200.27 373.05 L201.44 371.1 L202.73 369.2 L204.14 367.35 L205.67 365.55 L207.33 363.79 L209.11 362.06 L211.01 360.37 L213.04 358.71 L215.19 357.08 L217.46 355.47 L219.85 353.89 L222.37 352.33 L225.01 350.79 L227.77 349.28 L230.65 347.78 L233.66 346.3 L236.79 344.84 L240.04 343.39 L243.42 341.96 L246.92 340.55 L250.54 339.14 L254.28 337.76 L258.15 336.38 L262.14 335.02 L266.25 333.67 L270.48 332.33 L274.84 331 L279.32 329.69 L283.93 328.38 L288.65 327.09 L293.5 325.8" fill="none" stroke="#111" stroke-width="1"/>
<path d="M195.3 398.3C195.38 396.92 195.52 392.55 195.8 390C196.08 387.45 196.42 385.25 197 383C197.58 380.75 198.12 379.02 199.3 376.5C200.48 373.98 201.98 370.73 204.1 367.9C206.22 365.07 209.35 361.82 212 359.5C214.65 357.18 217 355.75 220 354C223 352.25 225.83 350.9 230 349C234.17 347.1 240 344.4 245 342.6C250 340.8 255 339.42 260 338.2C265 336.98 270.28 336.12 275 335.3C279.72 334.48 286.08 333.63 288.3 333.3" fill="none" stroke="#111" stroke-width="1"/>
<path d="M195.3 398.3 L195.36 396.58 L195.52 395.04 L195.8 393.57 L196.19 392.13 L196.69 390.72 L197.3 389.33 L198.02 387.95 L198.85 386.6 L199.8 385.25 L200.85 383.92 L202.02 382.6 L203.29 381.28 L204.68 379.98 L206.18 378.68 L207.79 377.39 L209.51 376.11 L211.34 374.83 L213.28 373.56 L215.34 372.29 L217.5 371.03 L219.78 369.78 L222.16 368.53 L224.66 367.28 L227.27 366.04 L229.99 364.8 L232.82 363.56 L235.76 362.33 L238.81 361.1 L241.98 359.88 L245.25 358.66 L248.64 357.44 L252.13 356.22 L255.74 355.01 L259.46 353.8 L263.29 352.6 L267.23 351.39 L271.28 350.19 L275.44 348.99 L279.72 347.79 L284.1 346.6" fill="none" stroke="#111" stroke-width="1"/>
<circle cx="195.2" cy="398" r="2.1" fill="url(#gb)"/>
<circle cx="195.4" cy="394.1" r="2.1" fill="url(#gb)"/>
<circle cx="196.2" cy="390.3" r="2.1" fill="url(#gb)"/>
<circle cx="200" cy="384.3" r="2.1" fill="url(#gb)"/>
<circle cx="207.9" cy="376.3" r="2.1" fill="url(#gb)"/>
<circle cx="220" cy="362.9" r="2.1" fill="url(#gb)"/>
<circle cx="284.1" cy="345.8" r="2.1" fill="url(#gb)"/>
<circle cx="197.1" cy="396.1" r="2.1" fill="url(#gr)"/>
<circle cx="197.1" cy="383.3" r="2.1" fill="url(#gr)"/>
<circle cx="200.3" cy="376.3" r="2.1" fill="url(#gr)"/>
<circle cx="204.4" cy="370.6" r="2.1" fill="url(#gr)"/>
<circle cx="211.4" cy="362.3" r="2.1" fill="url(#gr)"/>
<circle cx="226.8" cy="353.4" r="2.1" fill="url(#gr)"/>
<circle cx="249" cy="345.1" r="2.1" fill="url(#gr)"/>
<circle cx="288.3" cy="334.8" r="2.1" fill="url(#gr)"/>
<circle cx="196.5" cy="390.3" r="2.1" fill="url(#gk)"/>
<circle cx="197.5" cy="385.9" r="2.1" fill="url(#gk)"/>
<circle cx="198.4" cy="380.8" r="2.1" fill="url(#gk)"/>
<circle cx="201.3" cy="372.1" r="2.1" fill="url(#gk)"/>
<circle cx="204.4" cy="366.8" r="2.1" fill="url(#gk)"/>
<circle cx="215.6" cy="360.6" r="2.1" fill="url(#gk)"/>
<circle cx="229.6" cy="346.6" r="2.1" fill="url(#gk)"/>
<circle cx="251.7" cy="336.7" r="2.1" fill="url(#gk)"/>
<circle cx="293.3" cy="326.3" r="2.1" fill="url(#gk)"/>
<circle cx="197.8" cy="306.3" r="1.85" fill="url(#gr)"/>
<circle cx="197.8" cy="314.2" r="1.85" fill="url(#gb)"/>
<circle cx="197.8" cy="322.1" r="1.85" fill="url(#gk)"/>
<text x="206.1" y="308.3" font-size="5.6" fill="#111" font-weight="bold" textLength="19.6" lengthAdjust="spacingAndGlyphs">O-CNTs</text>
<text x="206.1" y="316.2" font-size="5.6" fill="#111" font-weight="bold" textLength="19.6" lengthAdjust="spacingAndGlyphs">N-CNTs</text>
<text x="206.1" y="324.1" font-size="5.6" fill="#111" font-weight="bold" textLength="19.6" lengthAdjust="spacingAndGlyphs">G-CNTs</text>
<line x1="191" y1="329.3" x2="203.8" y2="329.3" stroke="#222" stroke-width="1"/>
<text x="206.1" y="331.3" font-size="5.9" fill="#111" font-weight="bold" textLength="27.8" lengthAdjust="spacingAndGlyphs">Freundlich</text>
<text x="309.4" y="357" font-size="13.5" fill="#111" font-weight="bold" textLength="6.7" lengthAdjust="spacingAndGlyphs">F</text>
<text x="271.8" y="400" font-size="7.4" fill="#111" font-weight="bold" textLength="29.3" lengthAdjust="spacingAndGlyphs">F: pH 4.0</text>
<text x="308.8" y="400" font-size="7.4" fill="#111" font-weight="bold" textLength="8.8" lengthAdjust="spacingAndGlyphs">PA</text>
<rect x="38.2" y="418.7" width="131.7" height="101.3" fill="none" stroke="#606060" stroke-width="1.05"/>
<line x1="36.4" y1="513.3" x2="38.2" y2="513.3" stroke="#606060" stroke-width="0.9"/>
<text x="34.7" y="515.58" font-size="5.7" fill="#111" text-anchor="end" font-weight="bold">0.00</text>
<line x1="36.4" y1="481.74" x2="38.2" y2="481.74" stroke="#606060" stroke-width="0.9"/>
<text x="34.7" y="484.02" font-size="5.7" fill="#111" text-anchor="end" font-weight="bold">0.23</text>
<line x1="36.4" y1="450.19" x2="38.2" y2="450.19" stroke="#606060" stroke-width="0.9"/>
<text x="34.7" y="452.47" font-size="5.7" fill="#111" text-anchor="end" font-weight="bold">0.46</text>
<line x1="36.4" y1="418.63" x2="38.2" y2="418.63" stroke="#606060" stroke-width="0.9"/>
<text x="34.7" y="420.91" font-size="5.7" fill="#111" text-anchor="end" font-weight="bold">0.69</text>
<line x1="38.2" y1="497.52" x2="39.6" y2="497.52" stroke="#606060" stroke-width="0.8"/>
<line x1="38.2" y1="465.97" x2="39.6" y2="465.97" stroke="#606060" stroke-width="0.8"/>
<line x1="38.2" y1="434.41" x2="39.6" y2="434.41" stroke="#606060" stroke-width="0.8"/>
<line x1="44" y1="520" x2="44" y2="521.8" stroke="#606060" stroke-width="0.9"/>
<text x="44" y="528.6" font-size="6" fill="#111" text-anchor="middle" font-weight="bold">0.0</text>
<line x1="75.6" y1="520" x2="75.6" y2="521.8" stroke="#606060" stroke-width="0.9"/>
<text x="75.6" y="528.6" font-size="6" fill="#111" text-anchor="middle" font-weight="bold">0.4</text>
<line x1="107.2" y1="520" x2="107.2" y2="521.8" stroke="#606060" stroke-width="0.9"/>
<text x="107.2" y="528.6" font-size="6" fill="#111" text-anchor="middle" font-weight="bold">0.8</text>
<line x1="138.8" y1="520" x2="138.8" y2="521.8" stroke="#606060" stroke-width="0.9"/>
<text x="138.8" y="528.6" font-size="6" fill="#111" text-anchor="middle" font-weight="bold">1.2</text>
<line x1="170.4" y1="520" x2="170.4" y2="521.8" stroke="#606060" stroke-width="0.9"/>
<text x="170.4" y="528.6" font-size="6" fill="#111" text-anchor="middle" font-weight="bold">1.6</text>
<line x1="59.8" y1="520" x2="59.8" y2="518.6" stroke="#606060" stroke-width="0.8"/>
<line x1="91.4" y1="520" x2="91.4" y2="518.6" stroke="#606060" stroke-width="0.8"/>
<line x1="123" y1="520" x2="123" y2="518.6" stroke="#606060" stroke-width="0.8"/>
<line x1="154.6" y1="520" x2="154.6" y2="518.6" stroke="#606060" stroke-width="0.8"/>
<path d="M44 513.3 L44.06 512.63 L44.22 511.69 L44.5 510.6 L44.9 509.4 L45.4 508.12 L46.01 506.77 L46.74 505.35 L47.58 503.87 L48.53 502.35 L49.59 500.77 L50.77 499.15 L52.05 497.5 L53.45 495.8 L54.96 494.07 L56.59 492.3 L58.32 490.5 L60.17 488.67 L62.12 486.8 L64.19 484.91 L66.38 483 L68.67 481.05 L71.07 479.08 L73.59 477.09 L76.22 475.07 L78.96 473.03 L81.81 470.97 L84.78 468.88 L87.85 466.77 L91.04 464.65 L94.34 462.5 L97.76 460.33 L101.28 458.14 L104.92 455.94 L108.66 453.71 L112.52 451.47 L116.5 449.21 L120.58 446.93 L124.77 444.64 L129.08 442.33 L133.5 440" fill="none" stroke="#111" stroke-width="1"/>
<path d="M44 513.3 L44.06 513.08 L44.22 512.73 L44.5 512.3 L44.9 511.81 L45.4 511.26 L46.02 510.68 L46.74 510.06 L47.58 509.4 L48.54 508.71 L49.6 507.99 L50.78 507.24 L52.06 506.46 L53.46 505.66 L54.98 504.83 L56.6 503.99 L58.34 503.12 L60.18 502.22 L62.14 501.31 L64.22 500.38 L66.4 499.43 L68.7 498.46 L71.1 497.47 L73.62 496.47 L76.26 495.45 L79 494.41 L81.86 493.36 L84.82 492.29 L87.9 491.2 L91.1 490.1 L94.4 488.99 L97.82 487.86 L101.34 486.72 L104.98 485.56 L108.74 484.39 L112.6 483.21 L116.58 482.01 L120.66 480.8 L124.86 479.58 L129.18 478.35 L133.6 477.1" fill="none" stroke="#111" stroke-width="1"/>
<path d="M44 513.3 L44.06 512.98 L44.24 512.53 L44.55 512.01 L44.98 511.45 L45.52 510.84 L46.19 510.21 L46.99 509.54 L47.9 508.85 L48.94 508.13 L50.09 507.39 L51.37 506.63 L52.77 505.86 L54.3 505.06 L55.94 504.25 L57.71 503.43 L59.6 502.58 L61.61 501.73 L63.74 500.86 L66 499.98 L68.38 499.08 L70.87 498.18 L73.49 497.26 L76.24 496.33 L79.1 495.39 L82.09 494.44 L85.19 493.48 L88.42 492.51 L91.78 491.53 L95.25 490.54 L98.84 489.54 L102.56 488.54 L106.4 487.52 L110.36 486.5 L114.44 485.46 L118.65 484.42 L122.98 483.37 L127.42 482.32 L131.99 481.25 L136.69 480.18 L141.5 479.1" fill="none" stroke="#111" stroke-width="1"/>
<circle cx="44.9" cy="511.3" r="2.1" fill="url(#gb)"/>
<circle cx="53.4" cy="506" r="2.1" fill="url(#gb)"/>
<circle cx="62" cy="503.5" r="2.1" fill="url(#gb)"/>
<circle cx="75.5" cy="499.1" r="2.1" fill="url(#gb)"/>
<circle cx="97" cy="488.9" r="2.1" fill="url(#gb)"/>
<circle cx="133.6" cy="472.7" r="2.1" fill="url(#gb)"/>
<circle cx="44.7" cy="512.4" r="2.1" fill="url(#gr)"/>
<circle cx="53.9" cy="496.2" r="2.1" fill="url(#gr)"/>
<circle cx="63.7" cy="484" r="2.1" fill="url(#gr)"/>
<circle cx="75" cy="480" r="2.1" fill="url(#gr)"/>
<circle cx="86" cy="467.8" r="2.1" fill="url(#gr)"/>
<circle cx="106.1" cy="455" r="2.1" fill="url(#gr)"/>
<circle cx="133.5" cy="435.8" r="2.1" fill="url(#gr)"/>
<circle cx="44.9" cy="510.1" r="2.1" fill="url(#gk)"/>
<circle cx="51" cy="504" r="2.1" fill="url(#gk)"/>
<circle cx="62.5" cy="499.6" r="2.1" fill="url(#gk)"/>
<circle cx="66.4" cy="497.9" r="2.1" fill="url(#gk)"/>
<circle cx="78.4" cy="492.3" r="2.1" fill="url(#gk)"/>
<circle cx="95.7" cy="492.3" r="2.1" fill="url(#gk)"/>
<circle cx="142.7" cy="483.7" r="2.1" fill="url(#gk)"/>
<circle cx="46.3" cy="424" r="1.85" fill="url(#gr)"/>
<circle cx="46.3" cy="431.8" r="1.85" fill="url(#gb)"/>
<circle cx="46.3" cy="439.6" r="1.85" fill="url(#gk)"/>
<text x="54.9" y="426" font-size="5.6" fill="#111" font-weight="bold" textLength="19.6" lengthAdjust="spacingAndGlyphs">O-CNTs</text>
<text x="54.9" y="433.8" font-size="5.6" fill="#111" font-weight="bold" textLength="19.6" lengthAdjust="spacingAndGlyphs">N-CNTs</text>
<text x="54.9" y="441.6" font-size="5.6" fill="#111" font-weight="bold" textLength="19.6" lengthAdjust="spacingAndGlyphs">G-CNTs</text>
<line x1="40.3" y1="447.1" x2="52.3" y2="447.1" stroke="#222" stroke-width="1"/>
<text x="54.9" y="449.1" font-size="5.9" fill="#111" font-weight="bold" textLength="27.3" lengthAdjust="spacingAndGlyphs">Freundlich</text>
<text x="155.1" y="471.8" font-size="13.5" fill="#111" font-weight="bold" textLength="8.2" lengthAdjust="spacingAndGlyphs">G</text>
<text x="119.5" y="516.7" font-size="7.4" fill="#111" font-weight="bold" textLength="30.8" lengthAdjust="spacingAndGlyphs">G: pH 7.0</text>
<text x="157.9" y="516.7" font-size="7.4" fill="#111" font-weight="bold" textLength="9.3" lengthAdjust="spacingAndGlyphs">BA</text>
<text transform="translate(19.4 468.9) rotate(-90)" text-anchor="middle" font-size="7.5" font-weight="bold" fill="#111" textLength="50" lengthAdjust="spacingAndGlyphs"><tspan font-style="italic" font-size="9">Q</tspan><tspan font-size="6" dy="1.8">e</tspan><tspan dy="-1.8"> (μmol·g</tspan><tspan font-size="4.65" dy="-2.8">-1</tspan><tspan dy="2.8">·m</tspan><tspan font-size="4.65" dy="-2.8">-2</tspan><tspan dy="2.8">)</tspan></text>
<text x="78.8" y="537.7" font-size="8.2" font-weight="bold" fill="#111" textLength="43.6" lengthAdjust="spacingAndGlyphs"><tspan font-style="italic" font-size="9.18">C</tspan><tspan font-size="6.56" dy="2.46">e</tspan><tspan dy="-2.46"> (mmol·L</tspan><tspan font-size="4.51" dy="-3.28">-1</tspan><tspan dy="3.28">)</tspan></text>
<rect x="190.6" y="418.9" width="131.9" height="101.3" fill="none" stroke="#606060" stroke-width="1.05"/>
<line x1="188.8" y1="514.7" x2="190.6" y2="514.7" stroke="#606060" stroke-width="0.9"/>
<text x="187.1" y="516.98" font-size="5.7" fill="#111" text-anchor="end" font-weight="bold">0.00</text>
<line x1="188.8" y1="466.8" x2="190.6" y2="466.8" stroke="#606060" stroke-width="0.9"/>
<text x="187.1" y="469.08" font-size="5.7" fill="#111" text-anchor="end" font-weight="bold">0.25</text>
<line x1="188.8" y1="418.9" x2="190.6" y2="418.9" stroke="#606060" stroke-width="0.9"/>
<text x="187.1" y="421.18" font-size="5.7" fill="#111" text-anchor="end" font-weight="bold">0.50</text>
<line x1="190.6" y1="490.75" x2="192" y2="490.75" stroke="#606060" stroke-width="0.8"/>
<line x1="190.6" y1="442.85" x2="192" y2="442.85" stroke="#606060" stroke-width="0.8"/>
<line x1="192.5" y1="520.2" x2="192.5" y2="522" stroke="#606060" stroke-width="0.9"/>
<text x="192.5" y="528.6" font-size="6" fill="#111" text-anchor="middle" font-weight="bold">0.0</text>
<line x1="224.7" y1="520.2" x2="224.7" y2="522" stroke="#606060" stroke-width="0.9"/>
<text x="224.7" y="528.6" font-size="6" fill="#111" text-anchor="middle" font-weight="bold">0.2</text>
<line x1="256.9" y1="520.2" x2="256.9" y2="522" stroke="#606060" stroke-width="0.9"/>
<text x="256.9" y="528.6" font-size="6" fill="#111" text-anchor="middle" font-weight="bold">0.4</text>
<line x1="289.1" y1="520.2" x2="289.1" y2="522" stroke="#606060" stroke-width="0.9"/>
<text x="289.1" y="528.6" font-size="6" fill="#111" text-anchor="middle" font-weight="bold">0.6</text>
<line x1="321.3" y1="520.2" x2="321.3" y2="522" stroke="#606060" stroke-width="0.9"/>
<text x="321.3" y="528.6" font-size="6" fill="#111" text-anchor="middle" font-weight="bold">0.8</text>
<line x1="208.6" y1="520.2" x2="208.6" y2="518.8" stroke="#606060" stroke-width="0.8"/>
<line x1="240.8" y1="520.2" x2="240.8" y2="518.8" stroke="#606060" stroke-width="0.8"/>
<line x1="273" y1="520.2" x2="273" y2="518.8" stroke="#606060" stroke-width="0.8"/>
<line x1="305.2" y1="520.2" x2="305.2" y2="518.8" stroke="#606060" stroke-width="0.8"/>
<path d="M197.9 513C198.03 512.58 197.95 512.72 198.7 510.5C199.45 508.28 201.18 502.72 202.4 499.7C203.62 496.68 204.67 494.95 206 492.4C207.33 489.85 207.73 487.67 210.4 484.4C213.07 481.13 218.12 476.57 222 472.8C225.88 469.03 229.03 465.45 233.7 461.8C238.37 458.15 243.95 454.4 250 450.9C256.05 447.4 263.23 443.9 270 440.8C276.77 437.7 287.17 433.72 290.6 432.3" fill="none" stroke="#111" stroke-width="1"/>
<path d="M198 514.47 L200.71 514.21 L203.42 513.86 L206.13 513.43 L208.84 512.92 L211.55 512.33 L214.26 511.66 L216.97 510.92 L219.68 510.1 L222.39 509.2 L225.1 508.24 L227.81 507.2 L230.52 506.09 L233.23 504.91 L235.94 503.66 L238.65 502.33 L241.36 500.94 L244.07 499.49 L246.78 497.96 L249.49 496.36 L252.2 494.7 L254.91 492.97 L257.62 491.18 L260.33 489.32 L263.04 487.39 L265.75 485.4 L268.46 483.35 L271.17 481.23 L273.88 479.04 L276.59 476.79 L279.3 474.48 L282.01 472.1 L284.72 469.66 L287.43 467.16 L290.14 464.6 L292.85 461.97 L295.56 459.28 L298.27 456.53 L300.98 453.71 L303.69 450.84 L306.4 447.9" fill="none" stroke="#111" stroke-width="1"/>
<line x1="198.6" y1="512.8" x2="300.8" y2="487.6" stroke="#111" stroke-width="1"/>
<circle cx="198.3" cy="513.4" r="2.1" fill="url(#gb)"/>
<circle cx="202.2" cy="512.1" r="2.1" fill="url(#gb)"/>
<circle cx="210.8" cy="511.3" r="2.1" fill="url(#gb)"/>
<circle cx="222.3" cy="507" r="2.1" fill="url(#gb)"/>
<circle cx="242.6" cy="502" r="2.1" fill="url(#gb)"/>
<circle cx="268.2" cy="483.7" r="2.1" fill="url(#gb)"/>
<circle cx="306.4" cy="447.9" r="2.1" fill="url(#gb)"/>
<circle cx="198.6" cy="510.9" r="2.1" fill="url(#gr)"/>
<circle cx="205.9" cy="497.4" r="2.1" fill="url(#gr)"/>
<circle cx="209.6" cy="484.4" r="2.1" fill="url(#gr)"/>
<circle cx="221.8" cy="472.7" r="2.1" fill="url(#gr)"/>
<circle cx="234" cy="461.2" r="2.1" fill="url(#gr)"/>
<circle cx="254.8" cy="444.6" r="2.1" fill="url(#gr)"/>
<circle cx="291.4" cy="434.1" r="2.1" fill="url(#gr)"/>
<circle cx="198.1" cy="513.8" r="2.1" fill="url(#gk)"/>
<circle cx="202.7" cy="512.6" r="2.1" fill="url(#gk)"/>
<circle cx="212.5" cy="511.8" r="2.1" fill="url(#gk)"/>
<circle cx="222.3" cy="507.7" r="2.1" fill="url(#gk)"/>
<circle cx="248.2" cy="504" r="2.1" fill="url(#gk)"/>
<circle cx="269" cy="493.5" r="2.1" fill="url(#gk)"/>
<circle cx="300.8" cy="488.1" r="2.1" fill="url(#gk)"/>
<circle cx="199.3" cy="424.6" r="1.85" fill="url(#gr)"/>
<circle cx="199.3" cy="432.3" r="1.85" fill="url(#gb)"/>
<circle cx="199.3" cy="440.1" r="1.85" fill="url(#gk)"/>
<text x="207.6" y="426.6" font-size="5.6" fill="#111" font-weight="bold" textLength="19.6" lengthAdjust="spacingAndGlyphs">O-CNTs</text>
<text x="207.6" y="434.3" font-size="5.6" fill="#111" font-weight="bold" textLength="19.6" lengthAdjust="spacingAndGlyphs">N-CNTs</text>
<text x="207.6" y="442.1" font-size="5.6" fill="#111" font-weight="bold" textLength="19.6" lengthAdjust="spacingAndGlyphs">G-CNTs</text>
<line x1="192.6" y1="447.3" x2="205.3" y2="447.3" stroke="#222" stroke-width="1"/>
<text x="207.6" y="449.3" font-size="5.9" fill="#111" font-weight="bold" textLength="27.9" lengthAdjust="spacingAndGlyphs">Freundlich</text>
<text x="308.6" y="473.9" font-size="13.2" fill="#111" font-weight="bold" textLength="7.9" lengthAdjust="spacingAndGlyphs">H</text>
<text x="272.8" y="515.8" font-size="7.4" fill="#111" font-weight="bold" textLength="30.2" lengthAdjust="spacingAndGlyphs">H: pH 7.0</text>
<text x="310.9" y="515.8" font-size="7.4" fill="#111" font-weight="bold" textLength="8.6" lengthAdjust="spacingAndGlyphs">PA</text>
<text x="234.8" y="537.7" font-size="8.2" font-weight="bold" fill="#111" textLength="44" lengthAdjust="spacingAndGlyphs"><tspan font-style="italic" font-size="9.18">C</tspan><tspan font-size="6.56" dy="2.46">e</tspan><tspan dy="-2.46"> (mmol·L</tspan><tspan font-size="4.51" dy="-3.28">-1</tspan><tspan dy="3.28">)</tspan></text>
<rect x="365.5" y="29.6" width="137" height="101.7" fill="none" stroke="#606060" stroke-width="1.05"/>
<line x1="363.6" y1="131.09" x2="365.4" y2="131.09" stroke="#606060" stroke-width="0.9"/>
<text x="361.5" y="133.57" font-size="6.2" fill="#111" text-anchor="end" font-weight="bold">1.20</text>
<line x1="363.6" y1="105.69" x2="365.4" y2="105.69" stroke="#606060" stroke-width="0.9"/>
<text x="361.5" y="108.17" font-size="6.2" fill="#111" text-anchor="end" font-weight="bold">1.80</text>
<line x1="363.6" y1="80.3" x2="365.4" y2="80.3" stroke="#606060" stroke-width="0.9"/>
<text x="361.5" y="82.78" font-size="6.2" fill="#111" text-anchor="end" font-weight="bold">2.40</text>
<line x1="363.6" y1="54.9" x2="365.4" y2="54.9" stroke="#606060" stroke-width="0.9"/>
<text x="361.5" y="57.38" font-size="6.2" fill="#111" text-anchor="end" font-weight="bold">3.00</text>
<line x1="363.6" y1="29.5" x2="365.4" y2="29.5" stroke="#606060" stroke-width="0.9"/>
<text x="361.5" y="31.98" font-size="6.2" fill="#111" text-anchor="end" font-weight="bold">3.60</text>
<line x1="365.4" y1="118.39" x2="366.8" y2="118.39" stroke="#606060" stroke-width="0.8"/>
<line x1="365.4" y1="93" x2="366.8" y2="93" stroke="#606060" stroke-width="0.8"/>
<line x1="365.4" y1="67.6" x2="366.8" y2="67.6" stroke="#606060" stroke-width="0.8"/>
<line x1="365.4" y1="42.2" x2="366.8" y2="42.2" stroke="#606060" stroke-width="0.8"/>
<line x1="369.8" y1="131.3" x2="369.8" y2="133.1" stroke="#606060" stroke-width="0.9"/>
<text x="369.8" y="140.6" font-size="6" fill="#111" text-anchor="middle" font-weight="bold">0.0</text>
<line x1="396.44" y1="131.3" x2="396.44" y2="133.1" stroke="#606060" stroke-width="0.9"/>
<text x="396.44" y="140.6" font-size="6" fill="#111" text-anchor="middle" font-weight="bold">0.3</text>
<line x1="423.08" y1="131.3" x2="423.08" y2="133.1" stroke="#606060" stroke-width="0.9"/>
<text x="423.08" y="140.6" font-size="6" fill="#111" text-anchor="middle" font-weight="bold">0.6</text>
<line x1="449.72" y1="131.3" x2="449.72" y2="133.1" stroke="#606060" stroke-width="0.9"/>
<text x="449.72" y="140.6" font-size="6" fill="#111" text-anchor="middle" font-weight="bold">0.9</text>
<line x1="476.36" y1="131.3" x2="476.36" y2="133.1" stroke="#606060" stroke-width="0.9"/>
<text x="476.36" y="140.6" font-size="6" fill="#111" text-anchor="middle" font-weight="bold">1.2</text>
<line x1="503" y1="131.3" x2="503" y2="133.1" stroke="#606060" stroke-width="0.9"/>
<text x="503" y="140.6" font-size="6" fill="#111" text-anchor="middle" font-weight="bold">1.5</text>
<line x1="383.12" y1="131.3" x2="383.12" y2="129.9" stroke="#606060" stroke-width="0.8"/>
<line x1="409.76" y1="131.3" x2="409.76" y2="129.9" stroke="#606060" stroke-width="0.8"/>
<line x1="436.4" y1="131.3" x2="436.4" y2="129.9" stroke="#606060" stroke-width="0.8"/>
<line x1="463.04" y1="131.3" x2="463.04" y2="129.9" stroke="#606060" stroke-width="0.8"/>
<line x1="489.68" y1="131.3" x2="489.68" y2="129.9" stroke="#606060" stroke-width="0.8"/>
<path d="M370 40.05L372.05 42.1L370 44.15L367.95 42.1Z" fill="none" stroke="#111" stroke-width="1.05"/>
<path d="M370 41.85L372.05 43.9L370 45.95L367.95 43.9Z" fill="none" stroke="#111" stroke-width="1.05"/>
<path d="M371.1 49.05L373.15 51.1L371.1 53.15L369.05 51.1Z" fill="none" stroke="#111" stroke-width="1.05"/>
<path d="M373.4 57.45L375.45 59.5L373.4 61.55L371.35 59.5Z" fill="none" stroke="#111" stroke-width="1.05"/>
<path d="M377.2 64.65L379.25 66.7L377.2 68.75L375.15 66.7Z" fill="none" stroke="#111" stroke-width="1.05"/>
<path d="M397.3 79.05L399.35 81.1L397.3 83.15L395.25 81.1Z" fill="none" stroke="#111" stroke-width="1.05"/>
<path d="M412.3 84.45L414.35 86.5L412.3 88.55L410.25 86.5Z" fill="none" stroke="#111" stroke-width="1.05"/>
<path d="M442 91.75L444.05 93.8L442 95.85L439.95 93.8Z" fill="none" stroke="#111" stroke-width="1.05"/>
<path d="M490.2 98.75L492.25 100.8L490.2 102.85L488.15 100.8Z" fill="none" stroke="#111" stroke-width="1.05"/>
<path d="M372.3 58.5L374.3 62.07L370.31 62.07Z" fill="none" stroke="#1a1aff" stroke-width="1.05"/>
<path d="M373.8 59.6L375.8 63.17L371.81 63.17Z" fill="none" stroke="#1a1aff" stroke-width="1.05"/>
<path d="M372.7 61.2L374.69 64.77L370.7 64.77Z" fill="none" stroke="#1a1aff" stroke-width="1.05"/>
<path d="M375 60.3L377 63.87L373 63.87Z" fill="none" stroke="#1a1aff" stroke-width="1.05"/>
<path d="M381.1 64.1L383.1 67.67L379.11 67.67Z" fill="none" stroke="#1a1aff" stroke-width="1.05"/>
<path d="M389.6 69.3L391.6 72.87L387.61 72.87Z" fill="none" stroke="#1a1aff" stroke-width="1.05"/>
<path d="M404.7 75.4L406.69 78.97L402.7 78.97Z" fill="none" stroke="#1a1aff" stroke-width="1.05"/>
<path d="M429.5 81.7L431.5 85.27L427.5 85.27Z" fill="none" stroke="#1a1aff" stroke-width="1.05"/>
<path d="M468.4 86.4L470.39 89.97L466.4 89.97Z" fill="none" stroke="#1a1aff" stroke-width="1.05"/>
<circle cx="371.6" cy="113.2" r="1.55" fill="none" stroke="#ff1a1a" stroke-width="1.15"/>
<circle cx="381.7" cy="101.7" r="1.55" fill="none" stroke="#ff1a1a" stroke-width="1.15"/>
<circle cx="393" cy="104.6" r="1.55" fill="none" stroke="#ff1a1a" stroke-width="1.15"/>
<circle cx="405.4" cy="110.2" r="1.55" fill="none" stroke="#ff1a1a" stroke-width="1.15"/>
<circle cx="417.8" cy="110.2" r="1.55" fill="none" stroke="#ff1a1a" stroke-width="1.15"/>
<circle cx="440.1" cy="112.9" r="1.55" fill="none" stroke="#ff1a1a" stroke-width="1.15"/>
<circle cx="470.8" cy="114" r="1.55" fill="none" stroke="#ff1a1a" stroke-width="1.15"/>
<path d="M472.5 34.55L474.55 36.6L472.5 38.65L470.45 36.6Z" fill="none" stroke="#111" stroke-width="1.05"/>
<path d="M472.5 42.5L474.5 46.07L470.5 46.07Z" fill="none" stroke="#1a1aff" stroke-width="1.05"/>
<circle cx="472.5" cy="52.8" r="1.55" fill="none" stroke="#ff1a1a" stroke-width="1.15"/>
<text x="481" y="38.8" font-size="6.2" fill="#111" font-weight="bold" textLength="18.2" lengthAdjust="spacingAndGlyphs">pH 2.0</text>
<text x="481" y="46.8" font-size="6.2" fill="#111" font-weight="bold" textLength="18.2" lengthAdjust="spacingAndGlyphs">pH 4.0</text>
<text x="481" y="55" font-size="6.2" fill="#111" font-weight="bold" textLength="18.2" lengthAdjust="spacingAndGlyphs">pH 7.0</text>
<text x="468.9" y="65.4" font-size="6.2" fill="#111" font-weight="bold" textLength="29.2" lengthAdjust="spacingAndGlyphs">I: O-CNTs</text>
<text x="489.2" y="127.5" font-size="8.4" fill="#111" font-weight="bold" textLength="10.5" lengthAdjust="spacingAndGlyphs">BA</text>
<text x="426.3" y="45.2" font-size="14.5" fill="#111" font-weight="bold" textLength="5" lengthAdjust="spacingAndGlyphs">I</text>
<text transform="translate(346.8 82.8) rotate(-90)" text-anchor="middle" font-size="7" font-weight="bold" fill="#111" textLength="49" lengthAdjust="spacingAndGlyphs">Log <tspan font-style="italic">K</tspan><tspan font-size="5.46" dy="1.82">d</tspan><tspan dy="-1.82"> (L·kg</tspan><tspan font-size="3.85" dy="-2.8">-1</tspan><tspan dy="2.8">)</tspan></text>
<rect x="365.7" y="149.3" width="136.8" height="101.9" fill="none" stroke="#606060" stroke-width="1.05"/>
<line x1="363.8" y1="238.5" x2="365.6" y2="238.5" stroke="#606060" stroke-width="0.9"/>
<text x="361.7" y="240.98" font-size="6.2" fill="#111" text-anchor="end" font-weight="bold">1.40</text>
<line x1="363.8" y1="216.15" x2="365.6" y2="216.15" stroke="#606060" stroke-width="0.9"/>
<text x="361.7" y="218.63" font-size="6.2" fill="#111" text-anchor="end" font-weight="bold">2.10</text>
<line x1="363.8" y1="193.8" x2="365.6" y2="193.8" stroke="#606060" stroke-width="0.9"/>
<text x="361.7" y="196.28" font-size="6.2" fill="#111" text-anchor="end" font-weight="bold">2.80</text>
<line x1="363.8" y1="171.45" x2="365.6" y2="171.45" stroke="#606060" stroke-width="0.9"/>
<text x="361.7" y="173.93" font-size="6.2" fill="#111" text-anchor="end" font-weight="bold">3.50</text>
<line x1="363.8" y1="149.1" x2="365.6" y2="149.1" stroke="#606060" stroke-width="0.9"/>
<text x="361.7" y="151.58" font-size="6.2" fill="#111" text-anchor="end" font-weight="bold">4.20</text>
<line x1="365.6" y1="227.33" x2="367" y2="227.33" stroke="#606060" stroke-width="0.8"/>
<line x1="365.6" y1="204.98" x2="367" y2="204.98" stroke="#606060" stroke-width="0.8"/>
<line x1="365.6" y1="182.63" x2="367" y2="182.63" stroke="#606060" stroke-width="0.8"/>
<line x1="365.6" y1="160.28" x2="367" y2="160.28" stroke="#606060" stroke-width="0.8"/>
<line x1="373.5" y1="251.2" x2="373.5" y2="253" stroke="#606060" stroke-width="0.9"/>
<text x="373.5" y="260" font-size="6" fill="#111" text-anchor="middle" font-weight="bold">0.0</text>
<line x1="399.3" y1="251.2" x2="399.3" y2="253" stroke="#606060" stroke-width="0.9"/>
<text x="399.3" y="260" font-size="6" fill="#111" text-anchor="middle" font-weight="bold">0.3</text>
<line x1="425.1" y1="251.2" x2="425.1" y2="253" stroke="#606060" stroke-width="0.9"/>
<text x="425.1" y="260" font-size="6" fill="#111" text-anchor="middle" font-weight="bold">0.6</text>
<line x1="450.9" y1="251.2" x2="450.9" y2="253" stroke="#606060" stroke-width="0.9"/>
<text x="450.9" y="260" font-size="6" fill="#111" text-anchor="middle" font-weight="bold">0.9</text>
<line x1="476.7" y1="251.2" x2="476.7" y2="253" stroke="#606060" stroke-width="0.9"/>
<text x="476.7" y="260" font-size="6" fill="#111" text-anchor="middle" font-weight="bold">1.2</text>
<line x1="502.5" y1="251.2" x2="502.5" y2="253" stroke="#606060" stroke-width="0.9"/>
<text x="502.5" y="260" font-size="6" fill="#111" text-anchor="middle" font-weight="bold">1.5</text>
<line x1="386.4" y1="251.2" x2="386.4" y2="249.8" stroke="#606060" stroke-width="0.8"/>
<line x1="412.2" y1="251.2" x2="412.2" y2="249.8" stroke="#606060" stroke-width="0.8"/>
<line x1="438" y1="251.2" x2="438" y2="249.8" stroke="#606060" stroke-width="0.8"/>
<line x1="463.8" y1="251.2" x2="463.8" y2="249.8" stroke="#606060" stroke-width="0.8"/>
<line x1="489.6" y1="251.2" x2="489.6" y2="249.8" stroke="#606060" stroke-width="0.8"/>
<path d="M374.4 162.75L376.45 164.8L374.4 166.85L372.35 164.8Z" fill="none" stroke="#111" stroke-width="1.05"/>
<path d="M374.4 169.55L376.45 171.6L374.4 173.65L372.35 171.6Z" fill="none" stroke="#111" stroke-width="1.05"/>
<path d="M375.3 175.55L377.35 177.6L375.3 179.65L373.25 177.6Z" fill="none" stroke="#111" stroke-width="1.05"/>
<path d="M377.2 181.55L379.25 183.6L377.2 185.65L375.15 183.6Z" fill="none" stroke="#111" stroke-width="1.05"/>
<path d="M381 187.15L383.05 189.2L381 191.25L378.95 189.2Z" fill="none" stroke="#111" stroke-width="1.05"/>
<path d="M391.7 194.35L393.75 196.4L391.7 198.45L389.65 196.4Z" fill="none" stroke="#111" stroke-width="1.05"/>
<path d="M414.8 200.55L416.85 202.6L414.8 204.65L412.75 202.6Z" fill="none" stroke="#111" stroke-width="1.05"/>
<path d="M469.7 208.45L471.75 210.5L469.7 212.55L467.65 210.5Z" fill="none" stroke="#111" stroke-width="1.05"/>
<path d="M374.4 186.8L376.39 190.37L372.4 190.37Z" fill="none" stroke="#1a1aff" stroke-width="1.05"/>
<path d="M374.8 193.4L376.8 196.97L372.81 196.97Z" fill="none" stroke="#1a1aff" stroke-width="1.05"/>
<path d="M375.7 196.5L377.69 200.07L373.7 200.07Z" fill="none" stroke="#1a1aff" stroke-width="1.05"/>
<path d="M377.6 202.7L379.6 206.27L375.61 206.27Z" fill="none" stroke="#1a1aff" stroke-width="1.05"/>
<path d="M382.3 211.8L384.3 215.37L380.31 215.37Z" fill="none" stroke="#1a1aff" stroke-width="1.05"/>
<path d="M391.1 218.7L393.1 222.27L389.11 222.27Z" fill="none" stroke="#1a1aff" stroke-width="1.05"/>
<path d="M406.2 224L408.19 227.57L404.2 227.57Z" fill="none" stroke="#1a1aff" stroke-width="1.05"/>
<path d="M431.5 227L433.5 230.57L429.5 230.57Z" fill="none" stroke="#1a1aff" stroke-width="1.05"/>
<path d="M480.4 234.2L482.39 237.77L478.4 237.77Z" fill="none" stroke="#1a1aff" stroke-width="1.05"/>
<circle cx="375.3" cy="213.3" r="1.55" fill="none" stroke="#ff1a1a" stroke-width="1.15"/>
<circle cx="376.1" cy="215.8" r="1.55" fill="none" stroke="#ff1a1a" stroke-width="1.15"/>
<circle cx="385.1" cy="222.7" r="1.55" fill="none" stroke="#ff1a1a" stroke-width="1.15"/>
<circle cx="394.1" cy="227.4" r="1.55" fill="none" stroke="#ff1a1a" stroke-width="1.15"/>
<circle cx="409.2" cy="230.2" r="1.55" fill="none" stroke="#ff1a1a" stroke-width="1.15"/>
<circle cx="432.2" cy="230.4" r="1.55" fill="none" stroke="#ff1a1a" stroke-width="1.15"/>
<circle cx="472.2" cy="230.4" r="1.55" fill="none" stroke="#ff1a1a" stroke-width="1.15"/>
<path d="M473.5 153L475.5 155L473.5 157L471.5 155Z" fill="none" stroke="#111" stroke-width="1.05"/>
<path d="M473.5 161.1L475.4 164.5L471.6 164.5Z" fill="none" stroke="#1a1aff" stroke-width="1.05"/>
<circle cx="473.5" cy="171.5" r="1.55" fill="none" stroke="#ff1a1a" stroke-width="1.15"/>
<text x="480.7" y="157.6" font-size="6.2" fill="#111" font-weight="bold" textLength="18.2" lengthAdjust="spacingAndGlyphs">pH 2.0</text>
<text x="480.7" y="165.7" font-size="6.2" fill="#111" font-weight="bold" textLength="18.2" lengthAdjust="spacingAndGlyphs">pH 4.0</text>
<text x="480.7" y="174.1" font-size="6.2" fill="#111" font-weight="bold" textLength="18.2" lengthAdjust="spacingAndGlyphs">pH 7.0</text>
<text x="468.9" y="182.1" font-size="6.2" fill="#111" font-weight="bold" textLength="31.3" lengthAdjust="spacingAndGlyphs">K: N-CNTs</text>
<text x="488.5" y="248.4" font-size="8.4" fill="#111" font-weight="bold" textLength="10.5" lengthAdjust="spacingAndGlyphs">BA</text>
<text x="424.1" y="165.3" font-size="14.4" fill="#111" font-weight="bold" textLength="10" lengthAdjust="spacingAndGlyphs">K</text>
<text transform="translate(346.6 193.9) rotate(-90)" text-anchor="middle" font-size="7" font-weight="bold" fill="#111" textLength="49" lengthAdjust="spacingAndGlyphs">Log <tspan font-style="italic">K</tspan><tspan font-size="5.46" dy="1.82">d</tspan><tspan dy="-1.82"> (L·kg</tspan><tspan font-size="3.85" dy="-2.8">-1</tspan><tspan dy="2.8">)</tspan></text>
<text x="413.2" y="271.5" font-size="8.8" font-weight="bold" fill="#111" textLength="48.8" lengthAdjust="spacingAndGlyphs"><tspan font-style="italic" font-size="9.86">C</tspan><tspan font-size="7.04" dy="2.64">e</tspan><tspan dy="-2.64"> (mmol·L</tspan><tspan font-size="4.84" dy="-3.52">-1</tspan><tspan dy="3.52">)</tspan></text>
<rect x="368.3" y="289.5" width="139.1" height="103.7" fill="none" stroke="#606060" stroke-width="1.05"/>
<line x1="366.5" y1="384.5" x2="368.3" y2="384.5" stroke="#606060" stroke-width="0.9"/>
<text x="364.9" y="387.14" font-size="6.6" fill="#111" text-anchor="end" font-weight="bold">1.50</text>
<line x1="366.5" y1="360.75" x2="368.3" y2="360.75" stroke="#606060" stroke-width="0.9"/>
<text x="364.9" y="363.39" font-size="6.6" fill="#111" text-anchor="end" font-weight="bold">2.00</text>
<line x1="366.5" y1="337" x2="368.3" y2="337" stroke="#606060" stroke-width="0.9"/>
<text x="364.9" y="339.64" font-size="6.6" fill="#111" text-anchor="end" font-weight="bold">2.50</text>
<line x1="366.5" y1="313.25" x2="368.3" y2="313.25" stroke="#606060" stroke-width="0.9"/>
<text x="364.9" y="315.89" font-size="6.6" fill="#111" text-anchor="end" font-weight="bold">3.00</text>
<line x1="366.5" y1="289.5" x2="368.3" y2="289.5" stroke="#606060" stroke-width="0.9"/>
<text x="364.9" y="292.14" font-size="6.6" fill="#111" text-anchor="end" font-weight="bold">3.50</text>
<line x1="368.3" y1="372.62" x2="369.7" y2="372.62" stroke="#606060" stroke-width="0.8"/>
<line x1="368.3" y1="348.88" x2="369.7" y2="348.88" stroke="#606060" stroke-width="0.8"/>
<line x1="368.3" y1="325.12" x2="369.7" y2="325.12" stroke="#606060" stroke-width="0.8"/>
<line x1="368.3" y1="301.38" x2="369.7" y2="301.38" stroke="#606060" stroke-width="0.8"/>
<line x1="376.3" y1="393.2" x2="376.3" y2="395" stroke="#606060" stroke-width="0.9"/>
<text x="376.3" y="401.6" font-size="6" fill="#111" text-anchor="middle" font-weight="bold">0.0</text>
<line x1="409" y1="393.2" x2="409" y2="395" stroke="#606060" stroke-width="0.9"/>
<text x="409" y="401.6" font-size="6" fill="#111" text-anchor="middle" font-weight="bold">0.2</text>
<line x1="441.7" y1="393.2" x2="441.7" y2="395" stroke="#606060" stroke-width="0.9"/>
<text x="441.7" y="401.6" font-size="6" fill="#111" text-anchor="middle" font-weight="bold">0.4</text>
<line x1="474.4" y1="393.2" x2="474.4" y2="395" stroke="#606060" stroke-width="0.9"/>
<text x="474.4" y="401.6" font-size="6" fill="#111" text-anchor="middle" font-weight="bold">0.6</text>
<line x1="507.1" y1="393.2" x2="507.1" y2="395" stroke="#606060" stroke-width="0.9"/>
<text x="507.1" y="401.6" font-size="6" fill="#111" text-anchor="middle" font-weight="bold">0.8</text>
<line x1="392.65" y1="393.2" x2="392.65" y2="391.8" stroke="#606060" stroke-width="0.8"/>
<line x1="425.35" y1="393.2" x2="425.35" y2="391.8" stroke="#606060" stroke-width="0.8"/>
<line x1="458.05" y1="393.2" x2="458.05" y2="391.8" stroke="#606060" stroke-width="0.8"/>
<line x1="490.75" y1="393.2" x2="490.75" y2="391.8" stroke="#606060" stroke-width="0.8"/>
<line x1="378.5" y1="312.1" x2="378.5" y2="319.3" stroke="#1a1aff" stroke-width="0.6"/>
<path d="M378.5 313.6L380.5 317.17L376.5 317.17Z" fill="none" stroke="#1a1aff" stroke-width="1.05"/>
<line x1="379.5" y1="314.9" x2="379.5" y2="322.1" stroke="#1a1aff" stroke-width="0.6"/>
<path d="M379.5 316.4L381.5 319.97L377.5 319.97Z" fill="none" stroke="#1a1aff" stroke-width="1.05"/>
<line x1="382.9" y1="318.7" x2="382.9" y2="325.9" stroke="#1a1aff" stroke-width="0.6"/>
<path d="M382.9 320.2L384.89 323.77L380.9 323.77Z" fill="none" stroke="#1a1aff" stroke-width="1.05"/>
<line x1="386.1" y1="324.3" x2="386.1" y2="331.5" stroke="#1a1aff" stroke-width="0.6"/>
<path d="M386.1 325.8L388.1 329.37L384.11 329.37Z" fill="none" stroke="#1a1aff" stroke-width="1.05"/>
<line x1="393.9" y1="330.9" x2="393.9" y2="338.1" stroke="#1a1aff" stroke-width="0.6"/>
<path d="M393.9 332.4L395.89 335.97L391.9 335.97Z" fill="none" stroke="#1a1aff" stroke-width="1.05"/>
<line x1="409.5" y1="340.3" x2="409.5" y2="347.5" stroke="#1a1aff" stroke-width="0.6"/>
<path d="M409.5 341.8L411.5 345.37L407.5 345.37Z" fill="none" stroke="#1a1aff" stroke-width="1.05"/>
<line x1="432.2" y1="348.2" x2="432.2" y2="355.4" stroke="#1a1aff" stroke-width="0.6"/>
<path d="M432.2 349.7L434.19 353.27L430.2 353.27Z" fill="none" stroke="#1a1aff" stroke-width="1.05"/>
<line x1="473" y1="355.8" x2="473" y2="363" stroke="#1a1aff" stroke-width="0.6"/>
<path d="M473 357.3L475 360.87L471 360.87Z" fill="none" stroke="#1a1aff" stroke-width="1.05"/>
<path d="M379.1 308.45L381.15 310.5L379.1 312.55L377.05 310.5Z" fill="none" stroke="#111" stroke-width="1.05"/>
<path d="M380.4 311.75L382.45 313.8L380.4 315.85L378.35 313.8Z" fill="none" stroke="#111" stroke-width="1.05"/>
<path d="M377.6 318.35L379.65 320.4L377.6 322.45L375.55 320.4Z" fill="none" stroke="#111" stroke-width="1.05"/>
<path d="M377.6 322.15L379.65 324.2L377.6 326.25L375.55 324.2Z" fill="none" stroke="#111" stroke-width="1.05"/>
<path d="M388.5 321.15L390.55 323.2L388.5 325.25L386.45 323.2Z" fill="none" stroke="#111" stroke-width="1.05"/>
<path d="M419.9 338.45L421.95 340.5L419.9 342.55L417.85 340.5Z" fill="none" stroke="#111" stroke-width="1.05"/>
<path d="M454.4 347.25L456.45 349.3L454.4 351.35L452.35 349.3Z" fill="none" stroke="#111" stroke-width="1.05"/>
<ellipse cx="382.9" cy="362.1" rx="1.5" ry="2.0" fill="none" stroke="#ff1a1a" stroke-width="1.2"/>
<ellipse cx="390.4" cy="364" rx="1.5" ry="2.0" fill="none" stroke="#ff1a1a" stroke-width="1.2"/>
<ellipse cx="394.5" cy="357.4" rx="1.5" ry="2.0" fill="none" stroke="#ff1a1a" stroke-width="1.2"/>
<ellipse cx="406.2" cy="361.4" rx="1.5" ry="2.0" fill="none" stroke="#ff1a1a" stroke-width="1.2"/>
<ellipse cx="418.6" cy="363.6" rx="1.5" ry="2.0" fill="none" stroke="#ff1a1a" stroke-width="1.2"/>
<ellipse cx="439.1" cy="366.6" rx="1.5" ry="2.0" fill="none" stroke="#ff1a1a" stroke-width="1.2"/>
<ellipse cx="476.5" cy="373.5" rx="1.5" ry="2.0" fill="none" stroke="#ff1a1a" stroke-width="1.2"/>
<path d="M479 294.3L480.8 296.1L479 297.9L477.2 296.1Z" fill="none" stroke="#111" stroke-width="1.1"/>
<path d="M479 302.4L480.71 305.46L477.29 305.46Z" fill="none" stroke="#1a1aff" stroke-width="1.1"/>
<circle cx="479" cy="312.8" r="1.45" fill="none" stroke="#ff1a1a" stroke-width="1.2"/>
<text x="486.8" y="298.5" font-size="6.2" fill="#111" font-weight="bold" textLength="18" lengthAdjust="spacingAndGlyphs">pH 2.0</text>
<text x="486.8" y="306.6" font-size="6.2" fill="#111" font-weight="bold" textLength="18" lengthAdjust="spacingAndGlyphs">pH 4.0</text>
<text x="486.8" y="315.2" font-size="6.2" fill="#111" font-weight="bold" textLength="18" lengthAdjust="spacingAndGlyphs">pH 7.0</text>
<text x="472.2" y="324.3" font-size="6.2" fill="#111" font-weight="bold" textLength="31.3" lengthAdjust="spacingAndGlyphs">J: O-CNTs</text>
<text x="492.9" y="388.6" font-size="8.4" fill="#111" font-weight="bold" textLength="10.4" lengthAdjust="spacingAndGlyphs">PA</text>
<text x="430.1" y="306" font-size="14.4" fill="#111" font-weight="bold" textLength="6.5" lengthAdjust="spacingAndGlyphs">J</text>
<text transform="translate(347.6 287.5) rotate(-90)" text-anchor="middle" font-size="9.2" font-weight="bold" fill="#111" textLength="62" lengthAdjust="spacingAndGlyphs">Log <tspan font-style="italic">K</tspan><tspan font-size="7.18" dy="2.39">d</tspan><tspan dy="-2.39"> (L·kg</tspan><tspan font-size="5.06" dy="-3.68">-1</tspan><tspan dy="3.68">)</tspan></text>
<rect x="367.9" y="409.9" width="138.3" height="103" fill="none" stroke="#606060" stroke-width="1.05"/>
<line x1="366.1" y1="500.8" x2="367.9" y2="500.8" stroke="#606060" stroke-width="0.9"/>
<text x="364.3" y="503.44" font-size="6.6" fill="#111" text-anchor="end" font-weight="bold">1.40</text>
<line x1="366.1" y1="478.05" x2="367.9" y2="478.05" stroke="#606060" stroke-width="0.9"/>
<text x="364.3" y="480.69" font-size="6.6" fill="#111" text-anchor="end" font-weight="bold">2.10</text>
<line x1="366.1" y1="455.3" x2="367.9" y2="455.3" stroke="#606060" stroke-width="0.9"/>
<text x="364.3" y="457.94" font-size="6.6" fill="#111" text-anchor="end" font-weight="bold">2.80</text>
<line x1="366.1" y1="432.55" x2="367.9" y2="432.55" stroke="#606060" stroke-width="0.9"/>
<text x="364.3" y="435.19" font-size="6.6" fill="#111" text-anchor="end" font-weight="bold">3.50</text>
<line x1="366.1" y1="409.8" x2="367.9" y2="409.8" stroke="#606060" stroke-width="0.9"/>
<text x="364.3" y="412.44" font-size="6.6" fill="#111" text-anchor="end" font-weight="bold">4.20</text>
<line x1="367.9" y1="489.43" x2="369.3" y2="489.43" stroke="#606060" stroke-width="0.8"/>
<line x1="367.9" y1="466.68" x2="369.3" y2="466.68" stroke="#606060" stroke-width="0.8"/>
<line x1="367.9" y1="443.93" x2="369.3" y2="443.93" stroke="#606060" stroke-width="0.8"/>
<line x1="367.9" y1="421.18" x2="369.3" y2="421.18" stroke="#606060" stroke-width="0.8"/>
<line x1="383.5" y1="512.9" x2="383.5" y2="514.7" stroke="#606060" stroke-width="0.9"/>
<text x="383.5" y="521.8" font-size="6" fill="#111" text-anchor="middle" font-weight="bold">0.0</text>
<line x1="414.22" y1="512.9" x2="414.22" y2="514.7" stroke="#606060" stroke-width="0.9"/>
<text x="414.22" y="521.8" font-size="6" fill="#111" text-anchor="middle" font-weight="bold">0.2</text>
<line x1="444.94" y1="512.9" x2="444.94" y2="514.7" stroke="#606060" stroke-width="0.9"/>
<text x="444.94" y="521.8" font-size="6" fill="#111" text-anchor="middle" font-weight="bold">0.4</text>
<line x1="475.66" y1="512.9" x2="475.66" y2="514.7" stroke="#606060" stroke-width="0.9"/>
<text x="475.66" y="521.8" font-size="6" fill="#111" text-anchor="middle" font-weight="bold">0.6</text>
<line x1="506.38" y1="512.9" x2="506.38" y2="514.7" stroke="#606060" stroke-width="0.9"/>
<text x="506.38" y="521.8" font-size="6" fill="#111" text-anchor="middle" font-weight="bold">0.8</text>
<line x1="398.86" y1="512.9" x2="398.86" y2="511.5" stroke="#606060" stroke-width="0.8"/>
<line x1="429.58" y1="512.9" x2="429.58" y2="511.5" stroke="#606060" stroke-width="0.8"/>
<line x1="460.3" y1="512.9" x2="460.3" y2="511.5" stroke="#606060" stroke-width="0.8"/>
<line x1="491.02" y1="512.9" x2="491.02" y2="511.5" stroke="#606060" stroke-width="0.8"/>
<path d="M383.6 422.3L385.6 425.87L381.61 425.87Z" fill="none" stroke="#1a1aff" stroke-width="1.05"/>
<path d="M383.6 425.2L385.6 428.77L381.61 428.77Z" fill="none" stroke="#1a1aff" stroke-width="1.05"/>
<path d="M383.6 428L385.6 431.57L381.61 431.57Z" fill="none" stroke="#1a1aff" stroke-width="1.05"/>
<path d="M383.6 431.7L385.6 435.27L381.61 435.27Z" fill="none" stroke="#1a1aff" stroke-width="1.05"/>
<path d="M384.7 436.4L386.69 439.97L382.7 439.97Z" fill="none" stroke="#1a1aff" stroke-width="1.05"/>
<path d="M384.7 439.3L386.69 442.87L382.7 442.87Z" fill="none" stroke="#1a1aff" stroke-width="1.05"/>
<path d="M388.5 445.8L390.5 449.37L386.5 449.37Z" fill="none" stroke="#1a1aff" stroke-width="1.05"/>
<path d="M395.8 453.4L397.8 456.97L393.81 456.97Z" fill="none" stroke="#1a1aff" stroke-width="1.05"/>
<path d="M407.3 456.2L409.3 459.77L405.31 459.77Z" fill="none" stroke="#1a1aff" stroke-width="1.05"/>
<path d="M438.5 462.5L440.5 466.07L436.5 466.07Z" fill="none" stroke="#1a1aff" stroke-width="1.05"/>
<path d="M496.8 467.4L498.8 470.97L494.81 470.97Z" fill="none" stroke="#1a1aff" stroke-width="1.05"/>
<path d="M387.9 436.45L389.95 438.5L387.9 440.55L385.85 438.5Z" fill="none" stroke="#111" stroke-width="1.05"/>
<path d="M386.1 438.35L388.15 440.4L386.1 442.45L384.05 440.4Z" fill="none" stroke="#111" stroke-width="1.05"/>
<path d="M384.2 443.05L386.25 445.1L384.2 447.15L382.15 445.1Z" fill="none" stroke="#111" stroke-width="1.05"/>
<path d="M384.2 448.35L386.25 450.4L384.2 452.45L382.15 450.4Z" fill="none" stroke="#111" stroke-width="1.05"/>
<path d="M393.2 440.85L395.25 442.9L393.2 444.95L391.15 442.9Z" fill="none" stroke="#111" stroke-width="1.05"/>
<path d="M414.6 451.85L416.65 453.9L414.6 455.95L412.55 453.9Z" fill="none" stroke="#111" stroke-width="1.05"/>
<path d="M472.3 461.95L474.35 464L472.3 466.05L470.25 464Z" fill="none" stroke="#111" stroke-width="1.05"/>
<circle cx="389.2" cy="491.2" r="1.55" fill="none" stroke="#ff1a1a" stroke-width="1.15"/>
<circle cx="394" cy="497.7" r="1.55" fill="none" stroke="#ff1a1a" stroke-width="1.15"/>
<circle cx="400.5" cy="496.8" r="1.55" fill="none" stroke="#ff1a1a" stroke-width="1.15"/>
<circle cx="411.4" cy="494.9" r="1.55" fill="none" stroke="#ff1a1a" stroke-width="1.15"/>
<circle cx="430.2" cy="493.6" r="1.55" fill="none" stroke="#ff1a1a" stroke-width="1.15"/>
<circle cx="454.6" cy="488" r="1.55" fill="none" stroke="#ff1a1a" stroke-width="1.15"/>
<circle cx="490.8" cy="482.6" r="1.55" fill="none" stroke="#ff1a1a" stroke-width="1.15"/>
<path d="M477.1 414.6L479 416.5L477.1 418.4L475.2 416.5Z" fill="none" stroke="#111" stroke-width="1.1"/>
<path d="M477.1 423L478.91 426.23L475.3 426.23Z" fill="none" stroke="#1a1aff" stroke-width="1.1"/>
<circle cx="477.1" cy="433.4" r="1.5" fill="none" stroke="#ff1a1a" stroke-width="1.2"/>
<text x="485.9" y="419" font-size="6.2" fill="#111" font-weight="bold" textLength="18" lengthAdjust="spacingAndGlyphs">pH 2.0</text>
<text x="485.9" y="427.4" font-size="6.2" fill="#111" font-weight="bold" textLength="18" lengthAdjust="spacingAndGlyphs">pH 4.0</text>
<text x="485.9" y="435.9" font-size="6.2" fill="#111" font-weight="bold" textLength="18" lengthAdjust="spacingAndGlyphs">pH 7.0</text>
<text x="472.6" y="444.4" font-size="6.2" fill="#111" font-weight="bold" textLength="31.3" lengthAdjust="spacingAndGlyphs">L: N-CNTs</text>
<text x="493.3" y="509.4" font-size="8.4" fill="#111" font-weight="bold" textLength="9.7" lengthAdjust="spacingAndGlyphs">PA</text>
<text x="429.9" y="424.8" font-size="14.4" fill="#111" font-weight="bold" textLength="8" lengthAdjust="spacingAndGlyphs">L</text>
<text transform="translate(347.6 454.5) rotate(-90)" text-anchor="middle" font-size="9.2" font-weight="bold" fill="#111" textLength="62" lengthAdjust="spacingAndGlyphs">Log <tspan font-style="italic">K</tspan><tspan font-size="7.18" dy="2.39">d</tspan><tspan dy="-2.39"> (L·kg</tspan><tspan font-size="5.06" dy="-3.68">-1</tspan><tspan dy="3.68">)</tspan></text>
<text x="415.8" y="532.7" font-size="8.8" font-weight="bold" fill="#111" textLength="49" lengthAdjust="spacingAndGlyphs"><tspan font-style="italic" font-size="9.86">C</tspan><tspan font-size="7.04" dy="2.64">e</tspan><tspan dy="-2.64"> (mmol L</tspan><tspan font-size="4.84" dy="-3.52">-1</tspan><tspan dy="3.52">)</tspan></text>
</svg></body></html>
